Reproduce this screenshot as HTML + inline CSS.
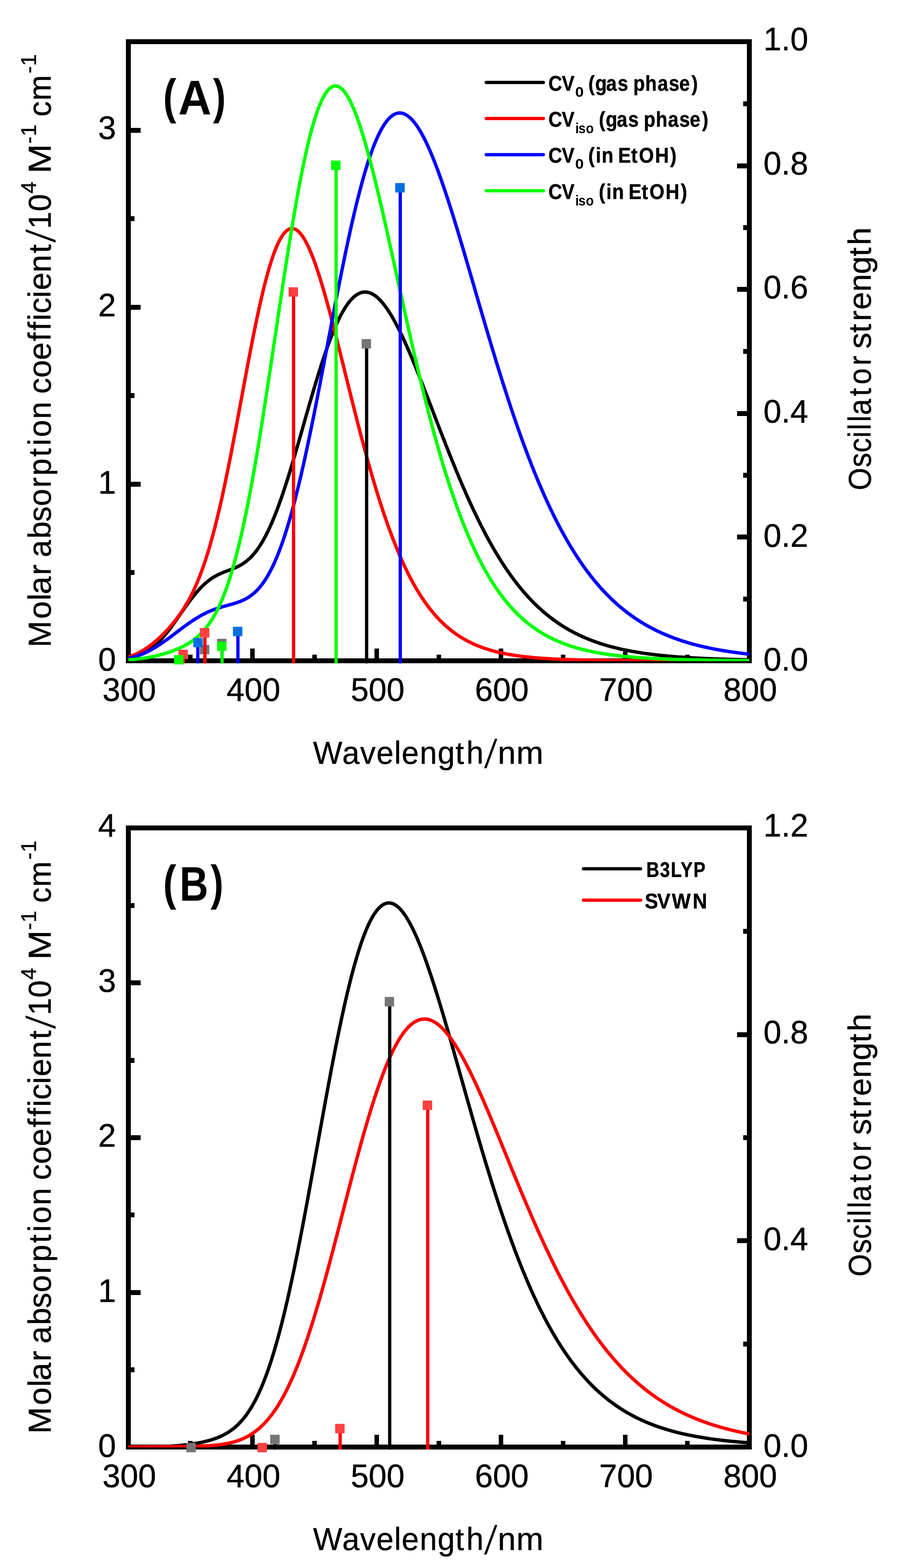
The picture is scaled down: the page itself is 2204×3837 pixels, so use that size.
<!DOCTYPE html>
<html lang="en"><head><meta charset="utf-8"><title>Calculated absorption spectra</title>
<style>html,body{margin:0;padding:0;background:#fff;}body{width:2204px;height:3837px;overflow:hidden;}svg{display:block;}text{font-family:"Liberation Sans",sans-serif;fill:#000;}</style></head><body>
<svg width="2204" height="3837" viewBox="0 0 2204 3837">
<rect x="0" y="0" width="2204" height="3837" fill="#fff"/>
<g>
<rect x="314" y="102" width="1519" height="1515" fill="none" stroke="#000" stroke-width="12"/>
<path d="M308,1617.0 h11 v-30 h-11 z M460,1617.0 h11 v-15 h-11 z M612,1617.0 h11 v-30 h-11 z M764,1617.0 h11 v-15 h-11 z M916,1617.0 h11 v-30 h-11 z M1068,1617.0 h11 v-15 h-11 z M1220,1617.0 h11 v-30 h-11 z M1372,1617.0 h11 v-15 h-11 z M1524,1617.0 h11 v-30 h-11 z M1676,1617.0 h11 v-15 h-11 z M1828,1617.0 h11 v-30 h-11 z M314.0,1611 h30 v12 h-30 z M314.0,1395 h15 v12 h-15 z M314.0,1179 h30 v12 h-30 z M314.0,962 h15 v12 h-15 z M314.0,746 h30 v12 h-30 z M314.0,529 h15 v12 h-15 z M314.0,313 h30 v12 h-30 z M314.0,96 h15 v12 h-15 z M1833.0,1611 h-30 v12 h30 z M1833.0,1460 h-15 v12 h15 z M1833.0,1308 h-30 v12 h30 z M1833.0,1157 h-15 v12 h15 z M1833.0,1006 h-30 v12 h30 z M1833.0,854 h-15 v12 h15 z M1833.0,702 h-30 v12 h30 z M1833.0,551 h-15 v12 h15 z M1833.0,400 h-30 v12 h30 z M1833.0,248 h-15 v12 h15 z M1833.0,96 h-30 v12 h30 z" fill="#000" stroke="none"/>
<clipPath id="clip0"><rect x="314" y="96" width="1520.5" height="1522"/></clipPath>
<g clip-path="url(#clip0)" fill="none" stroke-width="8.3" stroke-linejoin="round" stroke-linecap="butt">
<path d="M314.0,1608.4 L317.0,1607.8 L320.1,1607.2 L323.1,1606.6 L326.2,1605.9 L329.2,1605.1 L332.2,1604.3 L335.3,1603.4 L338.3,1602.4 L341.3,1601.3 L344.4,1600.2 L347.4,1598.9 L350.5,1597.6 L353.5,1596.1 L356.5,1594.5 L359.6,1592.8 L362.6,1591.0 L365.6,1589.0 L368.7,1587.0 L371.7,1584.8 L374.8,1582.4 L377.8,1580.0 L380.8,1577.4 L383.9,1574.6 L386.9,1571.8 L389.9,1568.8 L393.0,1565.6 L396.0,1562.4 L399.1,1559.0 L402.1,1555.5 L405.1,1551.9 L408.2,1548.2 L411.2,1544.4 L414.3,1540.4 L417.3,1536.4 L420.3,1532.4 L423.4,1528.2 L426.4,1524.0 L429.4,1519.7 L432.5,1515.4 L435.5,1511.1 L438.6,1506.8 L441.6,1502.4 L444.6,1498.0 L447.7,1493.7 L450.7,1489.3 L453.7,1485.0 L456.8,1480.8 L459.8,1476.5 L462.9,1472.4 L465.9,1468.3 L468.9,1464.3 L472.0,1460.4 L475.0,1456.6 L478.1,1452.9 L481.1,1449.3 L484.1,1445.8 L487.2,1442.4 L490.2,1439.1 L493.2,1436.0 L496.3,1433.0 L499.3,1430.1 L502.4,1427.4 L505.4,1424.8 L508.4,1422.3 L511.5,1419.9 L514.5,1417.7 L517.5,1415.6 L520.6,1413.6 L523.6,1411.7 L526.7,1410.0 L529.7,1408.3 L532.7,1406.8 L535.8,1405.3 L538.8,1403.9 L541.9,1402.5 L544.9,1401.3 L547.9,1400.0 L551.0,1398.8 L554.0,1397.7 L557.0,1396.5 L560.1,1395.4 L563.1,1394.3 L566.2,1393.1 L569.2,1391.9 L572.2,1390.7 L575.3,1389.4 L578.3,1388.0 L581.3,1386.6 L584.4,1385.1 L587.4,1383.4 L590.5,1381.7 L593.5,1379.8 L596.5,1377.8 L599.6,1375.7 L602.6,1373.4 L605.6,1370.9 L608.7,1368.2 L611.7,1365.4 L614.8,1362.4 L617.8,1359.1 L620.8,1355.7 L623.9,1352.0 L626.9,1348.1 L630.0,1344.0 L633.0,1339.7 L636.0,1335.1 L639.1,1330.3 L642.1,1325.2 L645.1,1319.9 L648.2,1314.3 L651.2,1308.5 L654.3,1302.4 L657.3,1296.1 L660.3,1289.6 L663.4,1282.8 L666.4,1275.7 L669.4,1268.4 L672.5,1260.9 L675.5,1253.2 L678.6,1245.2 L681.6,1237.0 L684.6,1228.6 L687.7,1220.0 L690.7,1211.2 L693.8,1202.2 L696.8,1193.0 L699.8,1183.6 L702.9,1174.1 L705.9,1164.4 L708.9,1154.6 L712.0,1144.6 L715.0,1134.5 L718.1,1124.4 L721.1,1114.1 L724.1,1103.7 L727.2,1093.2 L730.2,1082.7 L733.2,1072.1 L736.3,1061.5 L739.3,1050.9 L742.4,1040.2 L745.4,1029.6 L748.4,1018.9 L751.5,1008.3 L754.5,997.7 L757.5,987.2 L760.6,976.7 L763.6,966.3 L766.7,956.0 L769.7,945.8 L772.7,935.7 L775.8,925.7 L778.8,915.8 L781.9,906.1 L784.9,896.5 L787.9,887.1 L791.0,877.9 L794.0,868.9 L797.0,860.0 L800.1,851.3 L803.1,842.9 L806.2,834.7 L809.2,826.7 L812.2,818.9 L815.3,811.4 L818.3,804.1 L821.3,797.1 L824.4,790.4 L827.4,783.9 L830.5,777.7 L833.5,771.7 L836.5,766.1 L839.6,760.7 L842.6,755.6 L845.6,750.8 L848.7,746.3 L851.7,742.1 L854.8,738.2 L857.8,734.6 L860.8,731.3 L863.9,728.3 L866.9,725.5 L870.0,723.1 L873.0,721.0 L876.0,719.2 L879.1,717.7 L882.1,716.5 L885.1,715.6 L888.2,715.0 L891.2,714.7 L894.3,714.6 L897.3,714.9 L900.3,715.4 L903.4,716.2 L906.4,717.3 L909.4,718.7 L912.5,720.3 L915.5,722.2 L918.6,724.3 L921.6,726.7 L924.6,729.4 L927.7,732.3 L930.7,735.4 L933.8,738.8 L936.8,742.4 L939.8,746.2 L942.9,750.2 L945.9,754.5 L948.9,758.9 L952.0,763.6 L955.0,768.4 L958.1,773.4 L961.1,778.6 L964.1,784.0 L967.2,789.6 L970.2,795.3 L973.2,801.2 L976.3,807.2 L979.3,813.3 L982.4,819.6 L985.4,826.1 L988.4,832.6 L991.5,839.3 L994.5,846.1 L997.5,853.0 L1000.6,860.0 L1003.6,867.1 L1006.7,874.3 L1009.7,881.6 L1012.7,888.9 L1015.8,896.3 L1018.8,903.8 L1021.9,911.4 L1024.9,919.0 L1027.9,926.7 L1031.0,934.4 L1034.0,942.1 L1037.0,949.9 L1040.1,957.7 L1043.1,965.6 L1046.2,973.4 L1049.2,981.3 L1052.2,989.2 L1055.3,997.1 L1058.3,1005.0 L1061.3,1012.9 L1064.4,1020.9 L1067.4,1028.8 L1070.5,1036.7 L1073.5,1044.5 L1076.5,1052.4 L1079.6,1060.2 L1082.6,1068.1 L1085.7,1075.9 L1088.7,1083.6 L1091.7,1091.4 L1094.8,1099.0 L1097.8,1106.7 L1100.8,1114.3 L1103.9,1121.9 L1106.9,1129.4 L1110.0,1136.9 L1113.0,1144.3 L1116.0,1151.7 L1119.1,1159.0 L1122.1,1166.3 L1125.1,1173.5 L1128.2,1180.6 L1131.2,1187.7 L1134.3,1194.8 L1137.3,1201.7 L1140.3,1208.6 L1143.4,1215.5 L1146.4,1222.2 L1149.5,1228.9 L1152.5,1235.5 L1155.5,1242.1 L1158.6,1248.6 L1161.6,1255.0 L1164.6,1261.3 L1167.7,1267.6 L1170.7,1273.8 L1173.8,1279.9 L1176.8,1286.0 L1179.8,1291.9 L1182.9,1297.8 L1185.9,1303.6 L1188.9,1309.4 L1192.0,1315.0 L1195.0,1320.6 L1198.1,1326.2 L1201.1,1331.6 L1204.1,1337.0 L1207.2,1342.2 L1210.2,1347.5 L1213.2,1352.6 L1216.3,1357.7 L1219.3,1362.6 L1222.4,1367.5 L1225.4,1372.4 L1228.4,1377.2 L1231.5,1381.8 L1234.5,1386.5 L1237.6,1391.0 L1240.6,1395.5 L1243.6,1399.9 L1246.7,1404.2 L1249.7,1408.5 L1252.7,1412.6 L1255.8,1416.8 L1258.8,1420.8 L1261.9,1424.8 L1264.9,1428.7 L1267.9,1432.6 L1271.0,1436.3 L1274.0,1440.1 L1277.0,1443.7 L1280.1,1447.3 L1283.1,1450.8 L1286.2,1454.3 L1289.2,1457.7 L1292.2,1461.0 L1295.3,1464.3 L1298.3,1467.5 L1301.3,1470.6 L1304.4,1473.7 L1307.4,1476.8 L1310.5,1479.8 L1313.5,1482.7 L1316.5,1485.6 L1319.6,1488.4 L1322.6,1491.1 L1325.7,1493.9 L1328.7,1496.5 L1331.7,1499.1 L1334.8,1501.7 L1337.8,1504.2 L1340.8,1506.6 L1343.9,1509.0 L1346.9,1511.4 L1350.0,1513.7 L1353.0,1516.0 L1356.0,1518.2 L1359.1,1520.4 L1362.1,1522.5 L1365.1,1524.6 L1368.2,1526.7 L1371.2,1528.7 L1374.3,1530.6 L1377.3,1532.5 L1380.3,1534.4 L1383.4,1536.3 L1386.4,1538.1 L1389.5,1539.9 L1392.5,1541.6 L1395.5,1543.3 L1398.6,1544.9 L1401.6,1546.6 L1404.6,1548.2 L1407.7,1549.7 L1410.7,1551.2 L1413.8,1552.7 L1416.8,1554.2 L1419.8,1555.6 L1422.9,1557.0 L1425.9,1558.4 L1428.9,1559.7 L1432.0,1561.0 L1435.0,1562.3 L1438.1,1563.6 L1441.1,1564.8 L1444.1,1566.0 L1447.2,1567.2 L1450.2,1568.3 L1453.2,1569.4 L1456.3,1570.5 L1459.3,1571.6 L1462.4,1572.6 L1465.4,1573.7 L1468.4,1574.7 L1471.5,1575.7 L1474.5,1576.6 L1477.6,1577.6 L1480.6,1578.5 L1483.6,1579.4 L1486.7,1580.2 L1489.7,1581.1 L1492.7,1581.9 L1495.8,1582.7 L1498.8,1583.5 L1501.9,1584.3 L1504.9,1585.1 L1507.9,1585.8 L1511.0,1586.6 L1514.0,1587.3 L1517.0,1588.0 L1520.1,1588.7 L1523.1,1589.3 L1526.2,1590.0 L1529.2,1590.6 L1532.2,1591.2 L1535.3,1591.8 L1538.3,1592.4 L1541.4,1593.0 L1544.4,1593.6 L1547.4,1594.1 L1550.5,1594.7 L1553.5,1595.2 L1556.5,1595.7 L1559.6,1596.2 L1562.6,1596.7 L1565.7,1597.2 L1568.7,1597.6 L1571.7,1598.1 L1574.8,1598.5 L1577.8,1599.0 L1580.8,1599.4 L1583.9,1599.8 L1586.9,1600.2 L1590.0,1600.6 L1593.0,1601.0 L1596.0,1601.4 L1599.1,1601.7 L1602.1,1602.1 L1605.2,1602.5 L1608.2,1602.8 L1611.2,1603.1 L1614.3,1603.5 L1617.3,1603.8 L1620.3,1604.1 L1623.4,1604.4 L1626.4,1604.7 L1629.5,1605.0 L1632.5,1605.3 L1635.5,1605.6 L1638.6,1605.8 L1641.6,1606.1 L1644.6,1606.4 L1647.7,1606.6 L1650.7,1606.9 L1653.8,1607.1 L1656.8,1607.3 L1659.8,1607.6 L1662.9,1607.8 L1665.9,1608.0 L1668.9,1608.2 L1672.0,1608.4 L1675.0,1608.6 L1678.1,1608.8 L1681.1,1609.0 L1684.1,1609.2 L1687.2,1609.4 L1690.2,1609.6 L1693.3,1609.7 L1696.3,1609.9 L1699.3,1610.1 L1702.4,1610.2 L1705.4,1610.4 L1708.4,1610.6 L1711.5,1610.7 L1714.5,1610.9 L1717.6,1611.0 L1720.6,1611.1 L1723.6,1611.3 L1726.7,1611.4 L1729.7,1611.6 L1732.7,1611.7 L1735.8,1611.8 L1738.8,1611.9 L1741.9,1612.0 L1744.9,1612.2 L1747.9,1612.3 L1751.0,1612.4 L1754.0,1612.5 L1757.0,1612.6 L1760.1,1612.7 L1763.1,1612.8 L1766.2,1612.9 L1769.2,1613.0 L1772.2,1613.1 L1775.3,1613.2 L1778.3,1613.3 L1781.4,1613.4 L1784.4,1613.4 L1787.4,1613.5 L1790.5,1613.6 L1793.5,1613.7 L1796.5,1613.8 L1799.6,1613.8 L1802.6,1613.9 L1805.7,1614.0 L1808.7,1614.1 L1811.7,1614.1 L1814.8,1614.2 L1817.8,1614.3 L1820.8,1614.3 L1823.9,1614.4 L1826.9,1614.5 L1830.0,1614.5 L1833.0,1614.6" stroke="#000000"/>
<path d="M314.0,1607.6 L317.0,1606.6 L320.1,1605.6 L323.1,1604.5 L326.2,1603.3 L329.2,1602.1 L332.2,1600.8 L335.3,1599.4 L338.3,1597.9 L341.3,1596.3 L344.4,1594.7 L347.4,1593.0 L350.5,1591.2 L353.5,1589.3 L356.5,1587.3 L359.6,1585.3 L362.6,1583.2 L365.6,1581.0 L368.7,1578.7 L371.7,1576.4 L374.8,1574.0 L377.8,1571.5 L380.8,1568.9 L383.9,1566.3 L386.9,1563.5 L389.9,1560.8 L393.0,1557.9 L396.0,1555.0 L399.1,1552.0 L402.1,1548.9 L405.1,1545.8 L408.2,1542.5 L411.2,1539.2 L414.3,1535.8 L417.3,1532.4 L420.3,1528.8 L423.4,1525.2 L426.4,1521.4 L429.4,1517.6 L432.5,1513.6 L435.5,1509.5 L438.6,1505.3 L441.6,1501.0 L444.6,1496.5 L447.7,1491.9 L450.7,1487.1 L453.7,1482.2 L456.8,1477.0 L459.8,1471.7 L462.9,1466.2 L465.9,1460.5 L468.9,1454.5 L472.0,1448.3 L475.0,1441.9 L478.1,1435.2 L481.1,1428.3 L484.1,1421.1 L487.2,1413.6 L490.2,1405.8 L493.2,1397.7 L496.3,1389.3 L499.3,1380.5 L502.4,1371.5 L505.4,1362.1 L508.4,1352.3 L511.5,1342.3 L514.5,1331.8 L517.5,1321.1 L520.6,1310.0 L523.6,1298.5 L526.7,1286.7 L529.7,1274.6 L532.7,1262.1 L535.8,1249.3 L538.8,1236.1 L541.9,1222.7 L544.9,1208.9 L547.9,1194.9 L551.0,1180.5 L554.0,1165.9 L557.0,1151.0 L560.1,1135.9 L563.1,1120.6 L566.2,1105.1 L569.2,1089.4 L572.2,1073.5 L575.3,1057.4 L578.3,1041.3 L581.3,1025.1 L584.4,1008.8 L587.4,992.4 L590.5,976.0 L593.5,959.6 L596.5,943.2 L599.6,926.9 L602.6,910.7 L605.6,894.6 L608.7,878.5 L611.7,862.7 L614.8,847.0 L617.8,831.6 L620.8,816.3 L623.9,801.3 L626.9,786.6 L630.0,772.2 L633.0,758.2 L636.0,744.4 L639.1,731.1 L642.1,718.1 L645.1,705.6 L648.2,693.4 L651.2,681.7 L654.3,670.5 L657.3,659.8 L660.3,649.5 L663.4,639.8 L666.4,630.6 L669.4,621.9 L672.5,613.7 L675.5,606.1 L678.6,599.1 L681.6,592.6 L684.6,586.7 L687.7,581.4 L690.7,576.6 L693.8,572.4 L696.8,568.8 L699.8,565.8 L702.9,563.3 L705.9,561.4 L708.9,560.1 L712.0,559.4 L715.0,559.2 L718.1,559.6 L721.1,560.5 L724.1,562.0 L727.2,564.0 L730.2,566.5 L733.2,569.6 L736.3,573.1 L739.3,577.2 L742.4,581.7 L745.4,586.7 L748.4,592.1 L751.5,598.0 L754.5,604.3 L757.5,611.0 L760.6,618.1 L763.6,625.6 L766.7,633.4 L769.7,641.7 L772.7,650.2 L775.8,659.1 L778.8,668.3 L781.9,677.7 L784.9,687.5 L787.9,697.5 L791.0,707.8 L794.0,718.3 L797.0,729.0 L800.1,739.9 L803.1,751.0 L806.2,762.2 L809.2,773.6 L812.2,785.2 L815.3,796.9 L818.3,808.7 L821.3,820.6 L824.4,832.6 L827.4,844.7 L830.5,856.8 L833.5,869.0 L836.5,881.2 L839.6,893.5 L842.6,905.7 L845.6,918.0 L848.7,930.3 L851.7,942.5 L854.8,954.7 L857.8,966.9 L860.8,979.1 L863.9,991.2 L866.9,1003.2 L870.0,1015.2 L873.0,1027.1 L876.0,1038.9 L879.1,1050.6 L882.1,1062.2 L885.1,1073.8 L888.2,1085.2 L891.2,1096.5 L894.3,1107.7 L897.3,1118.8 L900.3,1129.7 L903.4,1140.5 L906.4,1151.2 L909.4,1161.8 L912.5,1172.2 L915.5,1182.5 L918.6,1192.6 L921.6,1202.6 L924.6,1212.4 L927.7,1222.1 L930.7,1231.6 L933.8,1241.0 L936.8,1250.2 L939.8,1259.2 L942.9,1268.1 L945.9,1276.9 L948.9,1285.5 L952.0,1293.9 L955.0,1302.2 L958.1,1310.3 L961.1,1318.3 L964.1,1326.1 L967.2,1333.7 L970.2,1341.2 L973.2,1348.6 L976.3,1355.7 L979.3,1362.8 L982.4,1369.7 L985.4,1376.4 L988.4,1383.0 L991.5,1389.4 L994.5,1395.7 L997.5,1401.9 L1000.6,1407.9 L1003.6,1413.8 L1006.7,1419.5 L1009.7,1425.1 L1012.7,1430.6 L1015.8,1435.9 L1018.8,1441.2 L1021.9,1446.2 L1024.9,1451.2 L1027.9,1456.0 L1031.0,1460.7 L1034.0,1465.3 L1037.0,1469.8 L1040.1,1474.2 L1043.1,1478.4 L1046.2,1482.5 L1049.2,1486.6 L1052.2,1490.5 L1055.3,1494.3 L1058.3,1498.0 L1061.3,1501.6 L1064.4,1505.1 L1067.4,1508.6 L1070.5,1511.9 L1073.5,1515.1 L1076.5,1518.3 L1079.6,1521.3 L1082.6,1524.3 L1085.7,1527.2 L1088.7,1530.0 L1091.7,1532.7 L1094.8,1535.3 L1097.8,1537.9 L1100.8,1540.4 L1103.9,1542.8 L1106.9,1545.2 L1110.0,1547.5 L1113.0,1549.7 L1116.0,1551.8 L1119.1,1553.9 L1122.1,1555.9 L1125.1,1557.9 L1128.2,1559.8 L1131.2,1561.6 L1134.3,1563.4 L1137.3,1565.2 L1140.3,1566.8 L1143.4,1568.5 L1146.4,1570.1 L1149.5,1571.6 L1152.5,1573.1 L1155.5,1574.5 L1158.6,1575.9 L1161.6,1577.3 L1164.6,1578.6 L1167.7,1579.8 L1170.7,1581.1 L1173.8,1582.2 L1176.8,1583.4 L1179.8,1584.5 L1182.9,1585.6 L1185.9,1586.6 L1188.9,1587.6 L1192.0,1588.6 L1195.0,1589.6 L1198.1,1590.5 L1201.1,1591.4 L1204.1,1592.2 L1207.2,1593.1 L1210.2,1593.9 L1213.2,1594.6 L1216.3,1595.4 L1219.3,1596.1 L1222.4,1596.8 L1225.4,1597.5 L1228.4,1598.2 L1231.5,1598.8 L1234.5,1599.4 L1237.6,1600.0 L1240.6,1600.6 L1243.6,1601.2 L1246.7,1601.7 L1249.7,1602.2 L1252.7,1602.7 L1255.8,1603.2 L1258.8,1603.7 L1261.9,1604.1 L1264.9,1604.6 L1267.9,1605.0 L1271.0,1605.4 L1274.0,1605.8 L1277.0,1606.2 L1280.1,1606.6 L1283.1,1606.9 L1286.2,1607.3 L1289.2,1607.6 L1292.2,1607.9 L1295.3,1608.2 L1298.3,1608.5 L1301.3,1608.8 L1304.4,1609.1 L1307.4,1609.4 L1310.5,1609.6 L1313.5,1609.9 L1316.5,1610.1 L1319.6,1610.4 L1322.6,1610.6 L1325.7,1610.8 L1328.7,1611.0 L1331.7,1611.2 L1334.8,1611.4 L1337.8,1611.6 L1340.8,1611.8 L1343.9,1612.0 L1346.9,1612.2 L1350.0,1612.3 L1353.0,1612.5 L1356.0,1612.6 L1359.1,1612.8 L1362.1,1612.9 L1365.1,1613.1 L1368.2,1613.2 L1371.2,1613.3 L1374.3,1613.5 L1377.3,1613.6 L1380.3,1613.7 L1383.4,1613.8 L1386.4,1613.9 L1389.5,1614.0 L1392.5,1614.1 L1395.5,1614.2 L1398.6,1614.3 L1401.6,1614.4 L1404.6,1614.5 L1407.7,1614.6 L1410.7,1614.7 L1413.8,1614.8 L1416.8,1614.8 L1419.8,1614.9 L1422.9,1615.0 L1425.9,1615.1 L1428.9,1615.1 L1432.0,1615.2 L1435.0,1615.3 L1438.1,1615.3 L1441.1,1615.4 L1444.1,1615.4 L1447.2,1615.5 L1450.2,1615.5 L1453.2,1615.6 L1456.3,1615.6 L1459.3,1615.7 L1462.4,1615.7 L1465.4,1615.8 L1468.4,1615.8 L1471.5,1615.9 L1474.5,1615.9 L1477.6,1615.9 L1480.6,1616.0 L1483.6,1616.0 L1486.7,1616.0 L1489.7,1616.1 L1492.7,1616.1 L1495.8,1616.1 L1498.8,1616.2 L1501.9,1616.2 L1504.9,1616.2 L1507.9,1616.2 L1511.0,1616.3 L1514.0,1616.3 L1517.0,1616.3 L1520.1,1616.3 L1523.1,1616.4 L1526.2,1616.4 L1529.2,1616.4 L1532.2,1616.4 L1535.3,1616.4 L1538.3,1616.5 L1541.4,1616.5 L1544.4,1616.5 L1547.4,1616.5 L1550.5,1616.5 L1553.5,1616.5 L1556.5,1616.6 L1559.6,1616.6 L1562.6,1616.6 L1565.7,1616.6 L1568.7,1616.6 L1571.7,1616.6 L1574.8,1616.6 L1577.8,1616.7 L1580.8,1616.7 L1583.9,1616.7 L1586.9,1616.7 L1590.0,1616.7 L1593.0,1616.7 L1596.0,1616.7 L1599.1,1616.7 L1602.1,1616.7 L1605.2,1616.7 L1608.2,1616.8 L1611.2,1616.8 L1614.3,1616.8 L1617.3,1616.8 L1620.3,1616.8 L1623.4,1616.8 L1626.4,1616.8 L1629.5,1616.8 L1632.5,1616.8 L1635.5,1616.8 L1638.6,1616.8 L1641.6,1616.8 L1644.6,1616.8 L1647.7,1616.8 L1650.7,1616.8 L1653.8,1616.9 L1656.8,1616.9 L1659.8,1616.9 L1662.9,1616.9 L1665.9,1616.9 L1668.9,1616.9 L1672.0,1616.9 L1675.0,1616.9 L1678.1,1616.9 L1681.1,1616.9 L1684.1,1616.9 L1687.2,1616.9 L1690.2,1616.9 L1693.3,1616.9 L1696.3,1616.9 L1699.3,1616.9 L1702.4,1616.9 L1705.4,1616.9 L1708.4,1616.9 L1711.5,1616.9 L1714.5,1616.9 L1717.6,1616.9 L1720.6,1616.9 L1723.6,1616.9 L1726.7,1616.9 L1729.7,1616.9 L1732.7,1616.9 L1735.8,1616.9 L1738.8,1616.9 L1741.9,1616.9 L1744.9,1616.9 L1747.9,1616.9 L1751.0,1616.9 L1754.0,1617.0 L1757.0,1617.0 L1760.1,1617.0 L1763.1,1617.0 L1766.2,1617.0 L1769.2,1617.0 L1772.2,1617.0 L1775.3,1617.0 L1778.3,1617.0 L1781.4,1617.0 L1784.4,1617.0 L1787.4,1617.0 L1790.5,1617.0 L1793.5,1617.0 L1796.5,1617.0 L1799.6,1617.0 L1802.6,1617.0 L1805.7,1617.0 L1808.7,1617.0 L1811.7,1617.0 L1814.8,1617.0 L1817.8,1617.0 L1820.8,1617.0 L1823.9,1617.0 L1826.9,1617.0 L1830.0,1617.0 L1833.0,1617.0" stroke="#ff0000"/>
<path d="M314.0,1611.0 L317.0,1610.3 L320.1,1609.6 L323.1,1608.9 L326.2,1608.1 L329.2,1607.2 L332.2,1606.3 L335.3,1605.3 L338.3,1604.3 L341.3,1603.2 L344.4,1602.0 L347.4,1600.8 L350.5,1599.5 L353.5,1598.2 L356.5,1596.8 L359.6,1595.4 L362.6,1593.8 L365.6,1592.3 L368.7,1590.6 L371.7,1589.0 L374.8,1587.2 L377.8,1585.4 L380.8,1583.6 L383.9,1581.7 L386.9,1579.7 L389.9,1577.8 L393.0,1575.7 L396.0,1573.7 L399.1,1571.6 L402.1,1569.4 L405.1,1567.3 L408.2,1565.1 L411.2,1562.9 L414.3,1560.6 L417.3,1558.3 L420.3,1556.1 L423.4,1553.8 L426.4,1551.5 L429.4,1549.2 L432.5,1546.9 L435.5,1544.6 L438.6,1542.3 L441.6,1540.0 L444.6,1537.7 L447.7,1535.5 L450.7,1533.2 L453.7,1531.0 L456.8,1528.8 L459.8,1526.6 L462.9,1524.5 L465.9,1522.4 L468.9,1520.4 L472.0,1518.3 L475.0,1516.3 L478.1,1514.4 L481.1,1512.5 L484.1,1510.7 L487.2,1508.9 L490.2,1507.1 L493.2,1505.4 L496.3,1503.8 L499.3,1502.2 L502.4,1500.7 L505.4,1499.2 L508.4,1497.8 L511.5,1496.5 L514.5,1495.1 L517.5,1493.9 L520.6,1492.7 L523.6,1491.5 L526.7,1490.4 L529.7,1489.4 L532.7,1488.3 L535.8,1487.4 L538.8,1486.4 L541.9,1485.5 L544.9,1484.6 L547.9,1483.8 L551.0,1482.9 L554.0,1482.1 L557.0,1481.3 L560.1,1480.4 L563.1,1479.6 L566.2,1478.7 L569.2,1477.9 L572.2,1477.0 L575.3,1476.0 L578.3,1475.1 L581.3,1474.0 L584.4,1472.9 L587.4,1471.8 L590.5,1470.5 L593.5,1469.2 L596.5,1467.8 L599.6,1466.3 L602.6,1464.6 L605.6,1462.9 L608.7,1461.0 L611.7,1458.9 L614.8,1456.7 L617.8,1454.4 L620.8,1451.8 L623.9,1449.1 L626.9,1446.2 L630.0,1443.1 L633.0,1439.8 L636.0,1436.3 L639.1,1432.5 L642.1,1428.5 L645.1,1424.3 L648.2,1419.8 L651.2,1415.1 L654.3,1410.1 L657.3,1404.8 L660.3,1399.3 L663.4,1393.4 L666.4,1387.3 L669.4,1380.9 L672.5,1374.2 L675.5,1367.2 L678.6,1359.9 L681.6,1352.3 L684.6,1344.4 L687.7,1336.1 L690.7,1327.6 L693.8,1318.7 L696.8,1309.6 L699.8,1300.1 L702.9,1290.3 L705.9,1280.2 L708.9,1269.8 L712.0,1259.1 L715.0,1248.1 L718.1,1236.8 L721.1,1225.2 L724.1,1213.3 L727.2,1201.2 L730.2,1188.8 L733.2,1176.1 L736.3,1163.1 L739.3,1149.9 L742.4,1136.4 L745.4,1122.8 L748.4,1108.8 L751.5,1094.7 L754.5,1080.4 L757.5,1065.9 L760.6,1051.2 L763.6,1036.3 L766.7,1021.2 L769.7,1006.0 L772.7,990.7 L775.8,975.3 L778.8,959.7 L781.9,944.0 L784.9,928.3 L787.9,912.5 L791.0,896.6 L794.0,880.7 L797.0,864.7 L800.1,848.8 L803.1,832.8 L806.2,816.8 L809.2,800.9 L812.2,785.0 L815.3,769.1 L818.3,753.4 L821.3,737.7 L824.4,722.0 L827.4,706.5 L830.5,691.2 L833.5,675.9 L836.5,660.8 L839.6,645.8 L842.6,631.1 L845.6,616.5 L848.7,602.1 L851.7,587.9 L854.8,573.9 L857.8,560.1 L860.8,546.6 L863.9,533.3 L866.9,520.3 L870.0,507.6 L873.0,495.1 L876.0,483.0 L879.1,471.1 L882.1,459.5 L885.1,448.3 L888.2,437.3 L891.2,426.7 L894.3,416.4 L897.3,406.5 L900.3,396.8 L903.4,387.6 L906.4,378.7 L909.4,370.1 L912.5,361.9 L915.5,354.1 L918.6,346.7 L921.6,339.6 L924.6,332.9 L927.7,326.6 L930.7,320.6 L933.8,315.0 L936.8,309.8 L939.8,305.0 L942.9,300.6 L945.9,296.5 L948.9,292.8 L952.0,289.5 L955.0,286.6 L958.1,284.1 L961.1,281.9 L964.1,280.1 L967.2,278.6 L970.2,277.6 L973.2,276.8 L976.3,276.5 L979.3,276.5 L982.4,276.8 L985.4,277.5 L988.4,278.6 L991.5,280.0 L994.5,281.7 L997.5,283.7 L1000.6,286.1 L1003.6,288.8 L1006.7,291.8 L1009.7,295.0 L1012.7,298.6 L1015.8,302.5 L1018.8,306.7 L1021.9,311.2 L1024.9,315.9 L1027.9,320.9 L1031.0,326.2 L1034.0,331.7 L1037.0,337.5 L1040.1,343.5 L1043.1,349.8 L1046.2,356.3 L1049.2,363.0 L1052.2,369.9 L1055.3,377.1 L1058.3,384.4 L1061.3,391.9 L1064.4,399.6 L1067.4,407.6 L1070.5,415.6 L1073.5,423.9 L1076.5,432.3 L1079.6,440.9 L1082.6,449.6 L1085.7,458.4 L1088.7,467.4 L1091.7,476.5 L1094.8,485.8 L1097.8,495.1 L1100.8,504.6 L1103.9,514.1 L1106.9,523.8 L1110.0,533.6 L1113.0,543.4 L1116.0,553.3 L1119.1,563.3 L1122.1,573.4 L1125.1,583.5 L1128.2,593.7 L1131.2,603.9 L1134.3,614.2 L1137.3,624.5 L1140.3,634.8 L1143.4,645.2 L1146.4,655.6 L1149.5,666.1 L1152.5,676.5 L1155.5,687.0 L1158.6,697.4 L1161.6,707.9 L1164.6,718.3 L1167.7,728.8 L1170.7,739.3 L1173.8,749.7 L1176.8,760.1 L1179.8,770.5 L1182.9,780.9 L1185.9,791.2 L1188.9,801.5 L1192.0,811.8 L1195.0,822.1 L1198.1,832.3 L1201.1,842.4 L1204.1,852.6 L1207.2,862.6 L1210.2,872.6 L1213.2,882.6 L1216.3,892.5 L1219.3,902.4 L1222.4,912.1 L1225.4,921.9 L1228.4,931.5 L1231.5,941.1 L1234.5,950.7 L1237.6,960.1 L1240.6,969.5 L1243.6,978.8 L1246.7,988.0 L1249.7,997.2 L1252.7,1006.3 L1255.8,1015.3 L1258.8,1024.2 L1261.9,1033.1 L1264.9,1041.8 L1267.9,1050.5 L1271.0,1059.1 L1274.0,1067.6 L1277.0,1076.1 L1280.1,1084.4 L1283.1,1092.7 L1286.2,1100.8 L1289.2,1108.9 L1292.2,1116.9 L1295.3,1124.8 L1298.3,1132.6 L1301.3,1140.4 L1304.4,1148.0 L1307.4,1155.6 L1310.5,1163.0 L1313.5,1170.4 L1316.5,1177.7 L1319.6,1184.9 L1322.6,1192.0 L1325.7,1199.0 L1328.7,1206.0 L1331.7,1212.8 L1334.8,1219.6 L1337.8,1226.2 L1340.8,1232.8 L1343.9,1239.3 L1346.9,1245.7 L1350.0,1252.0 L1353.0,1258.3 L1356.0,1264.4 L1359.1,1270.5 L1362.1,1276.5 L1365.1,1282.4 L1368.2,1288.2 L1371.2,1293.9 L1374.3,1299.6 L1377.3,1305.1 L1380.3,1310.6 L1383.4,1316.0 L1386.4,1321.3 L1389.5,1326.6 L1392.5,1331.7 L1395.5,1336.8 L1398.6,1341.8 L1401.6,1346.8 L1404.6,1351.6 L1407.7,1356.4 L1410.7,1361.1 L1413.8,1365.7 L1416.8,1370.3 L1419.8,1374.8 L1422.9,1379.2 L1425.9,1383.6 L1428.9,1387.8 L1432.0,1392.0 L1435.0,1396.2 L1438.1,1400.3 L1441.1,1404.3 L1444.1,1408.2 L1447.2,1412.1 L1450.2,1415.9 L1453.2,1419.6 L1456.3,1423.3 L1459.3,1426.9 L1462.4,1430.5 L1465.4,1434.0 L1468.4,1437.5 L1471.5,1440.8 L1474.5,1444.2 L1477.6,1447.4 L1480.6,1450.6 L1483.6,1453.8 L1486.7,1456.9 L1489.7,1459.9 L1492.7,1462.9 L1495.8,1465.9 L1498.8,1468.8 L1501.9,1471.6 L1504.9,1474.4 L1507.9,1477.1 L1511.0,1479.8 L1514.0,1482.5 L1517.0,1485.1 L1520.1,1487.6 L1523.1,1490.1 L1526.2,1492.6 L1529.2,1495.0 L1532.2,1497.3 L1535.3,1499.7 L1538.3,1501.9 L1541.4,1504.2 L1544.4,1506.4 L1547.4,1508.5 L1550.5,1510.7 L1553.5,1512.7 L1556.5,1514.8 L1559.6,1516.8 L1562.6,1518.8 L1565.7,1520.7 L1568.7,1522.6 L1571.7,1524.4 L1574.8,1526.3 L1577.8,1528.0 L1580.8,1529.8 L1583.9,1531.5 L1586.9,1533.2 L1590.0,1534.9 L1593.0,1536.5 L1596.0,1538.1 L1599.1,1539.6 L1602.1,1541.2 L1605.2,1542.7 L1608.2,1544.2 L1611.2,1545.6 L1614.3,1547.0 L1617.3,1548.4 L1620.3,1549.8 L1623.4,1551.1 L1626.4,1552.4 L1629.5,1553.7 L1632.5,1555.0 L1635.5,1556.2 L1638.6,1557.4 L1641.6,1558.6 L1644.6,1559.8 L1647.7,1560.9 L1650.7,1562.1 L1653.8,1563.2 L1656.8,1564.2 L1659.8,1565.3 L1662.9,1566.3 L1665.9,1567.4 L1668.9,1568.4 L1672.0,1569.3 L1675.0,1570.3 L1678.1,1571.2 L1681.1,1572.1 L1684.1,1573.1 L1687.2,1573.9 L1690.2,1574.8 L1693.3,1575.7 L1696.3,1576.5 L1699.3,1577.3 L1702.4,1578.1 L1705.4,1578.9 L1708.4,1579.7 L1711.5,1580.4 L1714.5,1581.1 L1717.6,1581.9 L1720.6,1582.6 L1723.6,1583.3 L1726.7,1583.9 L1729.7,1584.6 L1732.7,1585.3 L1735.8,1585.9 L1738.8,1586.5 L1741.9,1587.2 L1744.9,1587.8 L1747.9,1588.3 L1751.0,1588.9 L1754.0,1589.5 L1757.0,1590.0 L1760.1,1590.6 L1763.1,1591.1 L1766.2,1591.6 L1769.2,1592.2 L1772.2,1592.7 L1775.3,1593.1 L1778.3,1593.6 L1781.4,1594.1 L1784.4,1594.6 L1787.4,1595.0 L1790.5,1595.5 L1793.5,1595.9 L1796.5,1596.3 L1799.6,1596.7 L1802.6,1597.1 L1805.7,1597.5 L1808.7,1597.9 L1811.7,1598.3 L1814.8,1598.7 L1817.8,1599.1 L1820.8,1599.4 L1823.9,1599.8 L1826.9,1600.1 L1830.0,1600.5 L1833.0,1600.8" stroke="#0000ff"/>
<path d="M314.0,1614.6 L317.0,1614.4 L320.1,1614.2 L323.1,1613.9 L326.2,1613.6 L329.2,1613.3 L332.2,1613.0 L335.3,1612.7 L338.3,1612.3 L341.3,1611.9 L344.4,1611.6 L347.4,1611.1 L350.5,1610.7 L353.5,1610.3 L356.5,1609.8 L359.6,1609.3 L362.6,1608.8 L365.6,1608.2 L368.7,1607.6 L371.7,1607.0 L374.8,1606.4 L377.8,1605.8 L380.8,1605.1 L383.9,1604.4 L386.9,1603.7 L389.9,1602.9 L393.0,1602.1 L396.0,1601.3 L399.1,1600.5 L402.1,1599.6 L405.1,1598.7 L408.2,1597.8 L411.2,1596.8 L414.3,1595.8 L417.3,1594.7 L420.3,1593.7 L423.4,1592.6 L426.4,1591.4 L429.4,1590.2 L432.5,1588.9 L435.5,1587.6 L438.6,1586.3 L441.6,1584.9 L444.6,1583.4 L447.7,1581.9 L450.7,1580.4 L453.7,1578.7 L456.8,1577.0 L459.8,1575.2 L462.9,1573.3 L465.9,1571.4 L468.9,1569.3 L472.0,1567.2 L475.0,1564.9 L478.1,1562.5 L481.1,1560.0 L484.1,1557.4 L487.2,1554.6 L490.2,1551.7 L493.2,1548.7 L496.3,1545.5 L499.3,1542.1 L502.4,1538.5 L505.4,1534.7 L508.4,1530.7 L511.5,1526.5 L514.5,1522.1 L517.5,1517.5 L520.6,1512.5 L523.6,1507.4 L526.7,1501.9 L529.7,1496.2 L532.7,1490.2 L535.8,1483.9 L538.8,1477.3 L541.9,1470.3 L544.9,1463.1 L547.9,1455.4 L551.0,1447.5 L554.0,1439.1 L557.0,1430.4 L560.1,1421.3 L563.1,1411.8 L566.2,1401.9 L569.2,1391.7 L572.2,1381.0 L575.3,1369.9 L578.3,1358.4 L581.3,1346.5 L584.4,1334.2 L587.4,1321.5 L590.5,1308.3 L593.5,1294.8 L596.5,1280.8 L599.6,1266.4 L602.6,1251.7 L605.6,1236.5 L608.7,1220.9 L611.7,1205.0 L614.8,1188.7 L617.8,1172.0 L620.8,1155.0 L623.9,1137.6 L626.9,1119.9 L630.0,1101.9 L633.0,1083.6 L636.0,1065.0 L639.1,1046.2 L642.1,1027.1 L645.1,1007.7 L648.2,988.2 L651.2,968.5 L654.3,948.6 L657.3,928.6 L660.3,908.4 L663.4,888.2 L666.4,867.8 L669.4,847.4 L672.5,827.0 L675.5,806.6 L678.6,786.2 L681.6,765.8 L684.6,745.5 L687.7,725.2 L690.7,705.1 L693.8,685.1 L696.8,665.3 L699.8,645.7 L702.9,626.3 L705.9,607.1 L708.9,588.1 L712.0,569.4 L715.0,551.1 L718.1,533.0 L721.1,515.3 L724.1,497.9 L727.2,480.9 L730.2,464.3 L733.2,448.2 L736.3,432.4 L739.3,417.1 L742.4,402.3 L745.4,388.0 L748.4,374.1 L751.5,360.8 L754.5,347.9 L757.5,335.6 L760.6,323.9 L763.6,312.7 L766.7,302.0 L769.7,291.9 L772.7,282.4 L775.8,273.5 L778.8,265.1 L781.9,257.3 L784.9,250.2 L787.9,243.6 L791.0,237.6 L794.0,232.2 L797.0,227.4 L800.1,223.2 L803.1,219.6 L806.2,216.6 L809.2,214.2 L812.2,212.3 L815.3,211.1 L818.3,210.4 L821.3,210.3 L824.4,210.7 L827.4,211.7 L830.5,213.2 L833.5,215.3 L836.5,217.9 L839.6,221.0 L842.6,224.6 L845.6,228.7 L848.7,233.3 L851.7,238.4 L854.8,243.9 L857.8,249.9 L860.8,256.3 L863.9,263.2 L866.9,270.5 L870.0,278.2 L873.0,286.2 L876.0,294.7 L879.1,303.5 L882.1,312.7 L885.1,322.2 L888.2,332.0 L891.2,342.1 L894.3,352.6 L897.3,363.3 L900.3,374.3 L903.4,385.5 L906.4,397.0 L909.4,408.7 L912.5,420.7 L915.5,432.8 L918.6,445.2 L921.6,457.7 L924.6,470.4 L927.7,483.2 L930.7,496.2 L933.8,509.3 L936.8,522.6 L939.8,535.9 L942.9,549.3 L945.9,562.9 L948.9,576.5 L952.0,590.1 L955.0,603.9 L958.1,617.6 L961.1,631.4 L964.1,645.3 L967.2,659.1 L970.2,673.0 L973.2,686.8 L976.3,700.7 L979.3,714.5 L982.4,728.3 L985.4,742.0 L988.4,755.8 L991.5,769.4 L994.5,783.0 L997.5,796.6 L1000.6,810.1 L1003.6,823.5 L1006.7,836.9 L1009.7,850.1 L1012.7,863.3 L1015.8,876.3 L1018.8,889.3 L1021.9,902.2 L1024.9,914.9 L1027.9,927.6 L1031.0,940.1 L1034.0,952.5 L1037.0,964.8 L1040.1,977.0 L1043.1,989.0 L1046.2,1000.9 L1049.2,1012.7 L1052.2,1024.4 L1055.3,1035.9 L1058.3,1047.2 L1061.3,1058.4 L1064.4,1069.5 L1067.4,1080.4 L1070.5,1091.2 L1073.5,1101.9 L1076.5,1112.4 L1079.6,1122.7 L1082.6,1132.9 L1085.7,1143.0 L1088.7,1152.9 L1091.7,1162.6 L1094.8,1172.2 L1097.8,1181.7 L1100.8,1191.0 L1103.9,1200.1 L1106.9,1209.1 L1110.0,1218.0 L1113.0,1226.7 L1116.0,1235.3 L1119.1,1243.7 L1122.1,1251.9 L1125.1,1260.1 L1128.2,1268.0 L1131.2,1275.9 L1134.3,1283.6 L1137.3,1291.1 L1140.3,1298.6 L1143.4,1305.8 L1146.4,1313.0 L1149.5,1320.0 L1152.5,1326.9 L1155.5,1333.6 L1158.6,1340.2 L1161.6,1346.7 L1164.6,1353.0 L1167.7,1359.3 L1170.7,1365.4 L1173.8,1371.3 L1176.8,1377.2 L1179.8,1382.9 L1182.9,1388.5 L1185.9,1394.0 L1188.9,1399.4 L1192.0,1404.7 L1195.0,1409.8 L1198.1,1414.9 L1201.1,1419.8 L1204.1,1424.7 L1207.2,1429.4 L1210.2,1434.0 L1213.2,1438.5 L1216.3,1443.0 L1219.3,1447.3 L1222.4,1451.5 L1225.4,1455.6 L1228.4,1459.7 L1231.5,1463.6 L1234.5,1467.5 L1237.6,1471.3 L1240.6,1474.9 L1243.6,1478.5 L1246.7,1482.1 L1249.7,1485.5 L1252.7,1488.8 L1255.8,1492.1 L1258.8,1495.3 L1261.9,1498.4 L1264.9,1501.5 L1267.9,1504.5 L1271.0,1507.4 L1274.0,1510.2 L1277.0,1513.0 L1280.1,1515.7 L1283.1,1518.3 L1286.2,1520.9 L1289.2,1523.4 L1292.2,1525.8 L1295.3,1528.2 L1298.3,1530.5 L1301.3,1532.8 L1304.4,1535.0 L1307.4,1537.2 L1310.5,1539.3 L1313.5,1541.3 L1316.5,1543.3 L1319.6,1545.3 L1322.6,1547.2 L1325.7,1549.0 L1328.7,1550.8 L1331.7,1552.6 L1334.8,1554.3 L1337.8,1556.0 L1340.8,1557.6 L1343.9,1559.2 L1346.9,1560.8 L1350.0,1562.3 L1353.0,1563.7 L1356.0,1565.2 L1359.1,1566.6 L1362.1,1567.9 L1365.1,1569.2 L1368.2,1570.5 L1371.2,1571.8 L1374.3,1573.0 L1377.3,1574.2 L1380.3,1575.3 L1383.4,1576.5 L1386.4,1577.6 L1389.5,1578.6 L1392.5,1579.7 L1395.5,1580.7 L1398.6,1581.7 L1401.6,1582.6 L1404.6,1583.6 L1407.7,1584.5 L1410.7,1585.4 L1413.8,1586.2 L1416.8,1587.1 L1419.8,1587.9 L1422.9,1588.7 L1425.9,1589.5 L1428.9,1590.2 L1432.0,1590.9 L1435.0,1591.7 L1438.1,1592.3 L1441.1,1593.0 L1444.1,1593.7 L1447.2,1594.3 L1450.2,1594.9 L1453.2,1595.5 L1456.3,1596.1 L1459.3,1596.7 L1462.4,1597.3 L1465.4,1597.8 L1468.4,1598.3 L1471.5,1598.8 L1474.5,1599.3 L1477.6,1599.8 L1480.6,1600.3 L1483.6,1600.8 L1486.7,1601.2 L1489.7,1601.6 L1492.7,1602.1 L1495.8,1602.5 L1498.8,1602.9 L1501.9,1603.3 L1504.9,1603.6 L1507.9,1604.0 L1511.0,1604.4 L1514.0,1604.7 L1517.0,1605.1 L1520.1,1605.4 L1523.1,1605.7 L1526.2,1606.0 L1529.2,1606.3 L1532.2,1606.6 L1535.3,1606.9 L1538.3,1607.2 L1541.4,1607.4 L1544.4,1607.7 L1547.4,1608.0 L1550.5,1608.2 L1553.5,1608.5 L1556.5,1608.7 L1559.6,1608.9 L1562.6,1609.1 L1565.7,1609.4 L1568.7,1609.6 L1571.7,1609.8 L1574.8,1610.0 L1577.8,1610.2 L1580.8,1610.4 L1583.9,1610.5 L1586.9,1610.7 L1590.0,1610.9 L1593.0,1611.1 L1596.0,1611.2 L1599.1,1611.4 L1602.1,1611.5 L1605.2,1611.7 L1608.2,1611.8 L1611.2,1612.0 L1614.3,1612.1 L1617.3,1612.2 L1620.3,1612.4 L1623.4,1612.5 L1626.4,1612.6 L1629.5,1612.7 L1632.5,1612.9 L1635.5,1613.0 L1638.6,1613.1 L1641.6,1613.2 L1644.6,1613.3 L1647.7,1613.4 L1650.7,1613.5 L1653.8,1613.6 L1656.8,1613.7 L1659.8,1613.8 L1662.9,1613.9 L1665.9,1613.9 L1668.9,1614.0 L1672.0,1614.1 L1675.0,1614.2 L1678.1,1614.3 L1681.1,1614.3 L1684.1,1614.4 L1687.2,1614.5 L1690.2,1614.6 L1693.3,1614.6 L1696.3,1614.7 L1699.3,1614.7 L1702.4,1614.8 L1705.4,1614.9 L1708.4,1614.9 L1711.5,1615.0 L1714.5,1615.0 L1717.6,1615.1 L1720.6,1615.1 L1723.6,1615.2 L1726.7,1615.2 L1729.7,1615.3 L1732.7,1615.3 L1735.8,1615.4 L1738.8,1615.4 L1741.9,1615.5 L1744.9,1615.5 L1747.9,1615.5 L1751.0,1615.6 L1754.0,1615.6 L1757.0,1615.7 L1760.1,1615.7 L1763.1,1615.7 L1766.2,1615.8 L1769.2,1615.8 L1772.2,1615.8 L1775.3,1615.9 L1778.3,1615.9 L1781.4,1615.9 L1784.4,1616.0 L1787.4,1616.0 L1790.5,1616.0 L1793.5,1616.0 L1796.5,1616.1 L1799.6,1616.1 L1802.6,1616.1 L1805.7,1616.1 L1808.7,1616.2 L1811.7,1616.2 L1814.8,1616.2 L1817.8,1616.2 L1820.8,1616.2 L1823.9,1616.3 L1826.9,1616.3 L1830.0,1616.3 L1833.0,1616.3" stroke="#00ff00"/>
</g>
<rect x="892.8" y="841.3" width="8" height="782.3" rx="2" fill="#000000"/>
<rect x="539.2" y="1574.6" width="8" height="49.0" rx="2" fill="#000000"/>
<rect x="497.2" y="1589.7" width="8" height="33.9" rx="2" fill="#000000"/>
<rect x="884.6" y="829.8" width="23" height="23" fill="#757575"/>
<rect x="531.0" y="1563.1" width="23" height="23" fill="#757575"/>
<rect x="489.0" y="1578.2" width="23" height="23" fill="#757575"/>
<rect x="714.1" y="714.5" width="8" height="909.1" rx="2" fill="#ff0000"/>
<rect x="497.2" y="1548.5" width="8" height="75.1" rx="2" fill="#ff0000"/>
<rect x="444.7" y="1601.5" width="8" height="22.1" rx="2" fill="#ff0000"/>
<rect x="705.9" y="703.0" width="23" height="23" fill="#ff4040"/>
<rect x="489.0" y="1537.0" width="23" height="23" fill="#ff4040"/>
<rect x="436.5" y="1590.0" width="23" height="23" fill="#ff4040"/>
<rect x="975.1" y="459.5" width="8" height="1164.1" rx="2" fill="#0000ff"/>
<rect x="578.0" y="1545.3" width="8" height="78.3" rx="2" fill="#0000ff"/>
<rect x="479.9" y="1572.5" width="8" height="51.1" rx="2" fill="#0000ff"/>
<rect x="966.9" y="448.0" width="23" height="23" fill="#0070e0"/>
<rect x="569.8" y="1533.8" width="23" height="23" fill="#0070e0"/>
<rect x="472.9" y="1561.0" width="23" height="23" fill="#0070e0"/>
<rect x="818.2" y="404.5" width="8" height="1219.1" rx="2" fill="#00ff00"/>
<rect x="539.2" y="1581.5" width="8" height="42.1" rx="2" fill="#00ff00"/>
<rect x="810.0" y="393.0" width="23" height="23" fill="#00ff00"/>
<rect x="531.0" y="1570.0" width="23" height="23" fill="#00ff00"/>
<rect x="425.8" y="1602.9" width="23" height="23" fill="#00ff00"/>
<text x="283.8" y="1641.3" font-size="78.80" text-anchor="end" stroke="#000" stroke-width="0.6">0</text>
<text x="283.8" y="1207.5" font-size="78.80" text-anchor="end" stroke="#000" stroke-width="0.6">1</text>
<text x="283.8" y="773.8" font-size="78.80" text-anchor="end" stroke="#000" stroke-width="0.6">2</text>
<text x="283.8" y="340.0" font-size="78.80" text-anchor="end" stroke="#000" stroke-width="0.6">3</text>
<text x="1867.5" y="1641.3" font-size="78.80" stroke="#000" stroke-width="0.6">0.0</text>
<text x="1867.5" y="1337.7" font-size="78.80" stroke="#000" stroke-width="0.6">0.2</text>
<text x="1867.5" y="1034.0" font-size="78.80" stroke="#000" stroke-width="0.6">0.4</text>
<text x="1867.5" y="730.4" font-size="78.80" stroke="#000" stroke-width="0.6">0.6</text>
<text x="1867.5" y="426.7" font-size="78.80" stroke="#000" stroke-width="0.6">0.8</text>
<text x="1867.5" y="123.1" font-size="78.80" stroke="#000" stroke-width="0.6">1.0</text>
<text x="316.2" y="1715.1" font-size="78.80" text-anchor="middle" stroke="#000" stroke-width="0.6">300</text>
<text x="620.0" y="1715.1" font-size="78.80" text-anchor="middle" stroke="#000" stroke-width="0.6">400</text>
<text x="923.8" y="1715.1" font-size="78.80" text-anchor="middle" stroke="#000" stroke-width="0.6">500</text>
<text x="1227.6" y="1715.1" font-size="78.80" text-anchor="middle" stroke="#000" stroke-width="0.6">600</text>
<text x="1531.4" y="1715.1" font-size="78.80" text-anchor="middle" stroke="#000" stroke-width="0.6">700</text>
<text x="1835.2" y="1715.1" font-size="78.80" text-anchor="middle" stroke="#000" stroke-width="0.6">800</text>
<text transform="translate(0 1868.70) scale(0.9714 1)" x="788.2 861.9 906.9 947.8 992.6 1011.5 1057.0 1101.9 1146.9 1174.4" y="0" font-size="78.00" stroke="#000" stroke-width="0.6" stroke-linejoin="round">Wavelength</text>
<text transform="translate(1184.29 1879.44) skewX(-8.546) scale(1 1.2621)" x="0" y="0" font-size="78.00">/</text>
<text transform="translate(0 1868.70) scale(1.0193 1)" x="1194.5 1239.0" y="0" font-size="78.00" stroke="#000" stroke-width="0.6" stroke-linejoin="round">nm</text>
<text transform="translate(2129.50 0) rotate(-90) scale(0.9089 1)" x="-1319.9 -1258.0 -1218.6 -1178.5 -1158.1 -1136.0 -1117.5 -1066.4 -1035.0 -983.8" y="0" font-size="78.00" stroke="#000" stroke-width="0.6" stroke-linejoin="round">Oscillator</text>
<text transform="translate(2129.50 0) rotate(-90) scale(1.0069 1)" x="-847.3 -808.6 -780.5 -752.9 -709.2 -666.1 -622.9 -595.9" y="0" font-size="78.00" stroke="#000" stroke-width="0.6" stroke-linejoin="round">strength</text>
<text transform="translate(123.90 0) rotate(-90) scale(1.0051 1)" x="-1576.3 -1506.8 -1462.4 -1447.0 -1400.3" y="0" font-size="78.00" stroke="#000" stroke-width="0.6" stroke-linejoin="round">Molar</text>
<text transform="translate(123.90 0) rotate(-90) scale(0.9695 1)" x="-1406.5 -1359.6 -1317.0 -1277.5 -1230.7 -1200.6 -1152.8 -1124.9 -1103.5 -1057.5" y="0" font-size="78.00" stroke="#000" stroke-width="0.6" stroke-linejoin="round">absorption</text>
<text transform="translate(123.90 0) rotate(-90) scale(1.0010 1)" x="-962.9 -923.7 -880.1 -834.1 -808.1 -784.1 -766.5 -728.2 -709.3 -666.0 -618.8" y="0" font-size="78.00" stroke="#000" stroke-width="0.6" stroke-linejoin="round">coefficient</text>
<text transform="translate(123.90 0) rotate(-90) translate(-593.61 10.72) skewX(-8.519) scale(1 1.2776)" x="0" y="0" font-size="78.00">/</text>
<text transform="translate(123.90 0) rotate(-90) scale(0.9789 1)" x="-572.4 -528.3" y="0" font-size="78.00" stroke="#000" stroke-width="0.6" stroke-linejoin="round">10</text>
<text transform="translate(88.10 473.49) rotate(-90)" x="0" y="0" font-size="52.70" textLength="29.10" lengthAdjust="spacingAndGlyphs" stroke="#000" stroke-width="0.6" stroke-linejoin="round">4</text>
<text transform="translate(123.90 424.58) rotate(-90)" x="0" y="0" font-size="78.00" textLength="72.34" lengthAdjust="spacingAndGlyphs" stroke="#000" stroke-width="0.6" stroke-linejoin="round">M</text>
<text transform="translate(88.10 0) rotate(-90) scale(0.9861 1)" x="-356.5 -338.3" y="0" font-size="52.70" stroke="#000" stroke-width="0.6" stroke-linejoin="round">-1</text>
<text transform="translate(123.90 0) rotate(-90) scale(0.9629 1)" x="-296.2 -255.7" y="0" font-size="78.00" stroke="#000" stroke-width="0.6" stroke-linejoin="round">cm</text>
<text transform="translate(88.10 0) rotate(-90) scale(0.9917 1)" x="-181.1 -162.9" y="0" font-size="52.70" stroke="#000" stroke-width="0.6" stroke-linejoin="round">-1</text>
<text x="399.09" y="276.60" font-size="118.40" textLength="32.27" lengthAdjust="spacingAndGlyphs" font-weight="bold">(</text>
<text x="435.95" y="279.80" font-size="118.40" textLength="81.28" lengthAdjust="spacingAndGlyphs" font-weight="bold">A</text>
<text x="521.00" y="276.60" font-size="118.40" textLength="31.32" lengthAdjust="spacingAndGlyphs" font-weight="bold">)</text>
<text transform="translate(0 222.10) scale(0.8955 1)" x="1498.0 1534.7" y="0" font-size="52.00" font-weight="bold" stroke="#000" stroke-width="0.7" stroke-linejoin="round">CV</text>
<text x="1406.94" y="237.10" font-size="35.50" textLength="20.91" lengthAdjust="spacingAndGlyphs" font-weight="bold">0</text>
<text transform="translate(0 222.10) scale(0.8934 1)" x="1610.9 1629.8 1659.8 1690.9 1725.9 1733.8 1766.7 1800.3 1831.1 1859.7 1893.3" y="0" font-size="52.00" font-weight="bold" stroke="#000" stroke-width="0.7" stroke-linejoin="round">(gas phase)</text>
<text transform="translate(0 310.20) scale(0.8955 1)" x="1498.0 1534.7" y="0" font-size="52.00" font-weight="bold" stroke="#000" stroke-width="0.7" stroke-linejoin="round">CV</text>
<text transform="translate(0 326.20) scale(0.9061 1)" x="1553.1 1561.4 1581.5" y="0" font-size="35.50" font-weight="bold">iso</text>
<text transform="translate(0 310.20) scale(0.8934 1)" x="1639.7 1658.7 1688.7 1719.8 1754.8 1762.7 1795.6 1829.1 1860.0 1888.6 1922.1" y="0" font-size="52.00" font-weight="bold" stroke="#000" stroke-width="0.7" stroke-linejoin="round">(gas phase)</text>
<text transform="translate(0 398.20) scale(0.8955 1)" x="1498.0 1534.7" y="0" font-size="52.00" font-weight="bold" stroke="#000" stroke-width="0.7" stroke-linejoin="round">CV</text>
<text x="1406.94" y="413.20" font-size="35.50" textLength="20.91" lengthAdjust="spacingAndGlyphs" font-weight="bold">0</text>
<text transform="translate(0 398.20) scale(0.9043 1)" x="1591.4 1611.5 1627.6 1667.6 1672.1 1707.1 1728.5 1771.9 1812.8" y="0" font-size="52.00" font-weight="bold" stroke="#000" stroke-width="0.7" stroke-linejoin="round">(in EtOH)</text>
<text transform="translate(0 486.90) scale(0.8955 1)" x="1498.0 1534.7" y="0" font-size="52.00" font-weight="bold" stroke="#000" stroke-width="0.7" stroke-linejoin="round">CV</text>
<text transform="translate(0 502.90) scale(0.9061 1)" x="1553.1 1561.4 1581.5" y="0" font-size="35.50" font-weight="bold">iso</text>
<text transform="translate(0 486.90) scale(0.9043 1)" x="1619.9 1640.0 1656.1 1696.1 1700.6 1735.6 1757.0 1800.4 1841.4" y="0" font-size="52.00" font-weight="bold" stroke="#000" stroke-width="0.7" stroke-linejoin="round">(in EtOH)</text>
<path d="M1189.5,201.8 H1329.1" stroke="#000" stroke-width="8" stroke-linecap="round" fill="none"/>
<path d="M1189.5,290.1 H1329.1" stroke="#f00" stroke-width="8" stroke-linecap="round" fill="none"/>
<path d="M1189.5,378.4 H1329.1" stroke="#00f" stroke-width="8" stroke-linecap="round" fill="none"/>
<path d="M1189.5,466.7 H1329.1" stroke="#0f0" stroke-width="8" stroke-linecap="round" fill="none"/>
</g>
<g>
<rect x="314" y="2026" width="1519" height="1515" fill="none" stroke="#000" stroke-width="12"/>
<path d="M308,3541.0 h11 v-30 h-11 z M460,3541.0 h11 v-15 h-11 z M612,3541.0 h11 v-30 h-11 z M764,3541.0 h11 v-15 h-11 z M916,3541.0 h11 v-30 h-11 z M1068,3541.0 h11 v-15 h-11 z M1220,3541.0 h11 v-30 h-11 z M1372,3541.0 h11 v-15 h-11 z M1524,3541.0 h11 v-30 h-11 z M1676,3541.0 h11 v-15 h-11 z M1828,3541.0 h11 v-30 h-11 z M314.0,3535 h30 v12 h-30 z M314.0,3346 h15 v12 h-15 z M314.0,3157 h30 v12 h-30 z M314.0,2967 h15 v12 h-15 z M314.0,2778 h30 v12 h-30 z M314.0,2589 h15 v12 h-15 z M314.0,2399 h30 v12 h-30 z M314.0,2210 h15 v12 h-15 z M314.0,2020 h30 v12 h-30 z M1833.0,3535 h-30 v12 h30 z M1833.0,3283 h-15 v12 h15 z M1833.0,3030 h-30 v12 h30 z M1833.0,2778 h-15 v12 h15 z M1833.0,2526 h-30 v12 h30 z M1833.0,2273 h-15 v12 h15 z M1833.0,2020 h-30 v12 h30 z" fill="#000" stroke="none"/>
<clipPath id="clip1924"><rect x="314" y="2020" width="1520.5" height="1522"/></clipPath>
<g clip-path="url(#clip1924)" fill="none" stroke-width="8.3" stroke-linejoin="round" stroke-linecap="butt">
<path d="M314.0,3541.0 L317.0,3541.0 L320.1,3541.0 L323.1,3541.0 L326.2,3540.9 L329.2,3540.9 L332.2,3540.9 L335.3,3540.9 L338.3,3540.9 L341.3,3540.9 L344.4,3540.9 L347.4,3540.8 L350.5,3540.8 L353.5,3540.8 L356.5,3540.8 L359.6,3540.7 L362.6,3540.7 L365.6,3540.6 L368.7,3540.6 L371.7,3540.5 L374.8,3540.5 L377.8,3540.4 L380.8,3540.3 L383.9,3540.3 L386.9,3540.2 L389.9,3540.1 L393.0,3540.0 L396.0,3539.9 L399.1,3539.8 L402.1,3539.6 L405.1,3539.5 L408.2,3539.4 L411.2,3539.2 L414.3,3539.0 L417.3,3538.9 L420.3,3538.7 L423.4,3538.5 L426.4,3538.3 L429.4,3538.0 L432.5,3537.8 L435.5,3537.5 L438.6,3537.3 L441.6,3537.0 L444.6,3536.7 L447.7,3536.4 L450.7,3536.0 L453.7,3535.7 L456.8,3535.3 L459.8,3534.9 L462.9,3534.5 L465.9,3534.1 L468.9,3533.7 L472.0,3533.2 L475.0,3532.7 L478.1,3532.2 L481.1,3531.7 L484.1,3531.2 L487.2,3530.6 L490.2,3530.0 L493.2,3529.4 L496.3,3528.7 L499.3,3528.0 L502.4,3527.3 L505.4,3526.6 L508.4,3525.8 L511.5,3524.9 L514.5,3524.1 L517.5,3523.2 L520.6,3522.2 L523.6,3521.2 L526.7,3520.1 L529.7,3519.0 L532.7,3517.8 L535.8,3516.6 L538.8,3515.3 L541.9,3513.9 L544.9,3512.4 L547.9,3510.9 L551.0,3509.2 L554.0,3507.5 L557.0,3505.7 L560.1,3503.8 L563.1,3501.7 L566.2,3499.6 L569.2,3497.3 L572.2,3494.9 L575.3,3492.4 L578.3,3489.7 L581.3,3486.9 L584.4,3483.9 L587.4,3480.7 L590.5,3477.4 L593.5,3473.9 L596.5,3470.3 L599.6,3466.4 L602.6,3462.4 L605.6,3458.1 L608.7,3453.6 L611.7,3448.9 L614.8,3444.0 L617.8,3438.8 L620.8,3433.4 L623.9,3427.8 L626.9,3421.9 L630.0,3415.8 L633.0,3409.3 L636.0,3402.7 L639.1,3395.7 L642.1,3388.5 L645.1,3380.9 L648.2,3373.1 L651.2,3365.0 L654.3,3356.7 L657.3,3348.0 L660.3,3339.0 L663.4,3329.7 L666.4,3320.1 L669.4,3310.2 L672.5,3300.0 L675.5,3289.5 L678.6,3278.7 L681.6,3267.6 L684.6,3256.2 L687.7,3244.5 L690.7,3232.5 L693.8,3220.2 L696.8,3207.7 L699.8,3194.8 L702.9,3181.7 L705.9,3168.3 L708.9,3154.7 L712.0,3140.7 L715.0,3126.6 L718.1,3112.2 L721.1,3097.5 L724.1,3082.7 L727.2,3067.6 L730.2,3052.3 L733.2,3036.9 L736.3,3021.2 L739.3,3005.4 L742.4,2989.4 L745.4,2973.2 L748.4,2957.0 L751.5,2940.6 L754.5,2924.1 L757.5,2907.5 L760.6,2890.8 L763.6,2874.0 L766.7,2857.2 L769.7,2840.4 L772.7,2823.5 L775.8,2806.6 L778.8,2789.7 L781.9,2772.8 L784.9,2756.0 L787.9,2739.2 L791.0,2722.4 L794.0,2705.8 L797.0,2689.2 L800.1,2672.7 L803.1,2656.3 L806.2,2640.1 L809.2,2624.0 L812.2,2608.1 L815.3,2592.3 L818.3,2576.8 L821.3,2561.4 L824.4,2546.2 L827.4,2531.3 L830.5,2516.6 L833.5,2502.1 L836.5,2487.9 L839.6,2473.9 L842.6,2460.3 L845.6,2446.9 L848.7,2433.8 L851.7,2421.1 L854.8,2408.6 L857.8,2396.5 L860.8,2384.7 L863.9,2373.3 L866.9,2362.2 L870.0,2351.5 L873.0,2341.1 L876.0,2331.1 L879.1,2321.5 L882.1,2312.2 L885.1,2303.4 L888.2,2294.9 L891.2,2286.8 L894.3,2279.2 L897.3,2271.9 L900.3,2265.0 L903.4,2258.5 L906.4,2252.4 L909.4,2246.8 L912.5,2241.5 L915.5,2236.6 L918.6,2232.2 L921.6,2228.2 L924.6,2224.5 L927.7,2221.3 L930.7,2218.4 L933.8,2216.0 L936.8,2214.0 L939.8,2212.3 L942.9,2211.1 L945.9,2210.2 L948.9,2209.7 L952.0,2209.6 L955.0,2209.9 L958.1,2210.5 L961.1,2211.6 L964.1,2212.9 L967.2,2214.7 L970.2,2216.7 L973.2,2219.2 L976.3,2221.9 L979.3,2225.0 L982.4,2228.5 L985.4,2232.2 L988.4,2236.3 L991.5,2240.6 L994.5,2245.3 L997.5,2250.3 L1000.6,2255.5 L1003.6,2261.0 L1006.7,2266.8 L1009.7,2272.9 L1012.7,2279.2 L1015.8,2285.8 L1018.8,2292.6 L1021.9,2299.6 L1024.9,2306.9 L1027.9,2314.4 L1031.0,2322.1 L1034.0,2330.0 L1037.0,2338.1 L1040.1,2346.4 L1043.1,2354.8 L1046.2,2363.5 L1049.2,2372.3 L1052.2,2381.3 L1055.3,2390.4 L1058.3,2399.7 L1061.3,2409.1 L1064.4,2418.6 L1067.4,2428.3 L1070.5,2438.0 L1073.5,2447.9 L1076.5,2457.9 L1079.6,2468.0 L1082.6,2478.2 L1085.7,2488.4 L1088.7,2498.8 L1091.7,2509.2 L1094.8,2519.6 L1097.8,2530.2 L1100.8,2540.7 L1103.9,2551.4 L1106.9,2562.0 L1110.0,2572.7 L1113.0,2583.5 L1116.0,2594.2 L1119.1,2605.0 L1122.1,2615.8 L1125.1,2626.6 L1128.2,2637.4 L1131.2,2648.2 L1134.3,2659.0 L1137.3,2669.8 L1140.3,2680.5 L1143.4,2691.3 L1146.4,2702.0 L1149.5,2712.7 L1152.5,2723.4 L1155.5,2734.0 L1158.6,2744.6 L1161.6,2755.2 L1164.6,2765.7 L1167.7,2776.2 L1170.7,2786.6 L1173.8,2797.0 L1176.8,2807.3 L1179.8,2817.6 L1182.9,2827.8 L1185.9,2837.9 L1188.9,2848.0 L1192.0,2858.0 L1195.0,2867.9 L1198.1,2877.8 L1201.1,2887.6 L1204.1,2897.3 L1207.2,2906.9 L1210.2,2916.5 L1213.2,2925.9 L1216.3,2935.3 L1219.3,2944.6 L1222.4,2953.8 L1225.4,2963.0 L1228.4,2972.0 L1231.5,2981.0 L1234.5,2989.8 L1237.6,2998.6 L1240.6,3007.3 L1243.6,3015.9 L1246.7,3024.4 L1249.7,3032.8 L1252.7,3041.1 L1255.8,3049.3 L1258.8,3057.5 L1261.9,3065.5 L1264.9,3073.4 L1267.9,3081.3 L1271.0,3089.0 L1274.0,3096.7 L1277.0,3104.2 L1280.1,3111.7 L1283.1,3119.0 L1286.2,3126.3 L1289.2,3133.5 L1292.2,3140.5 L1295.3,3147.5 L1298.3,3154.4 L1301.3,3161.2 L1304.4,3167.9 L1307.4,3174.5 L1310.5,3181.0 L1313.5,3187.5 L1316.5,3193.8 L1319.6,3200.0 L1322.6,3206.2 L1325.7,3212.2 L1328.7,3218.2 L1331.7,3224.1 L1334.8,3229.9 L1337.8,3235.6 L1340.8,3241.2 L1343.9,3246.7 L1346.9,3252.2 L1350.0,3257.5 L1353.0,3262.8 L1356.0,3268.0 L1359.1,3273.1 L1362.1,3278.1 L1365.1,3283.1 L1368.2,3288.0 L1371.2,3292.7 L1374.3,3297.5 L1377.3,3302.1 L1380.3,3306.6 L1383.4,3311.1 L1386.4,3315.5 L1389.5,3319.9 L1392.5,3324.1 L1395.5,3328.3 L1398.6,3332.4 L1401.6,3336.5 L1404.6,3340.4 L1407.7,3344.3 L1410.7,3348.2 L1413.8,3351.9 L1416.8,3355.6 L1419.8,3359.3 L1422.9,3362.9 L1425.9,3366.4 L1428.9,3369.8 L1432.0,3373.2 L1435.0,3376.5 L1438.1,3379.8 L1441.1,3383.0 L1444.1,3386.1 L1447.2,3389.2 L1450.2,3392.3 L1453.2,3395.2 L1456.3,3398.2 L1459.3,3401.0 L1462.4,3403.8 L1465.4,3406.6 L1468.4,3409.3 L1471.5,3412.0 L1474.5,3414.6 L1477.6,3417.1 L1480.6,3419.6 L1483.6,3422.1 L1486.7,3424.5 L1489.7,3426.9 L1492.7,3429.2 L1495.8,3431.5 L1498.8,3433.7 L1501.9,3435.9 L1504.9,3438.1 L1507.9,3440.2 L1511.0,3442.3 L1514.0,3444.3 L1517.0,3446.3 L1520.1,3448.2 L1523.1,3450.2 L1526.2,3452.0 L1529.2,3453.9 L1532.2,3455.7 L1535.3,3457.4 L1538.3,3459.2 L1541.4,3460.9 L1544.4,3462.5 L1547.4,3464.2 L1550.5,3465.8 L1553.5,3467.3 L1556.5,3468.9 L1559.6,3470.4 L1562.6,3471.8 L1565.7,3473.3 L1568.7,3474.7 L1571.7,3476.1 L1574.8,3477.4 L1577.8,3478.8 L1580.8,3480.1 L1583.9,3481.3 L1586.9,3482.6 L1590.0,3483.8 L1593.0,3485.0 L1596.0,3486.2 L1599.1,3487.4 L1602.1,3488.5 L1605.2,3489.6 L1608.2,3490.7 L1611.2,3491.7 L1614.3,3492.8 L1617.3,3493.8 L1620.3,3494.8 L1623.4,3495.8 L1626.4,3496.7 L1629.5,3497.6 L1632.5,3498.6 L1635.5,3499.5 L1638.6,3500.3 L1641.6,3501.2 L1644.6,3502.0 L1647.7,3502.9 L1650.7,3503.7 L1653.8,3504.5 L1656.8,3505.2 L1659.8,3506.0 L1662.9,3506.7 L1665.9,3507.5 L1668.9,3508.2 L1672.0,3508.9 L1675.0,3509.5 L1678.1,3510.2 L1681.1,3510.9 L1684.1,3511.5 L1687.2,3512.1 L1690.2,3512.7 L1693.3,3513.3 L1696.3,3513.9 L1699.3,3514.5 L1702.4,3515.1 L1705.4,3515.6 L1708.4,3516.2 L1711.5,3516.7 L1714.5,3517.2 L1717.6,3517.7 L1720.6,3518.2 L1723.6,3518.7 L1726.7,3519.2 L1729.7,3519.6 L1732.7,3520.1 L1735.8,3520.5 L1738.8,3521.0 L1741.9,3521.4 L1744.9,3521.8 L1747.9,3522.2 L1751.0,3522.6 L1754.0,3523.0 L1757.0,3523.4 L1760.1,3523.8 L1763.1,3524.1 L1766.2,3524.5 L1769.2,3524.8 L1772.2,3525.2 L1775.3,3525.5 L1778.3,3525.8 L1781.4,3526.2 L1784.4,3526.5 L1787.4,3526.8 L1790.5,3527.1 L1793.5,3527.4 L1796.5,3527.7 L1799.6,3528.0 L1802.6,3528.2 L1805.7,3528.5 L1808.7,3528.8 L1811.7,3529.0 L1814.8,3529.3 L1817.8,3529.5 L1820.8,3529.8 L1823.9,3530.0 L1826.9,3530.2 L1830.0,3530.5 L1833.0,3530.7" stroke="#000000"/>
<path d="M314.0,3540.9 L317.0,3540.9 L320.1,3540.8 L323.1,3540.8 L326.2,3540.8 L329.2,3540.8 L332.2,3540.8 L335.3,3540.8 L338.3,3540.7 L341.3,3540.7 L344.4,3540.7 L347.4,3540.7 L350.5,3540.6 L353.5,3540.6 L356.5,3540.6 L359.6,3540.5 L362.6,3540.5 L365.6,3540.5 L368.7,3540.4 L371.7,3540.4 L374.8,3540.4 L377.8,3540.3 L380.8,3540.3 L383.9,3540.3 L386.9,3540.2 L389.9,3540.2 L393.0,3540.2 L396.0,3540.1 L399.1,3540.1 L402.1,3540.1 L405.1,3540.0 L408.2,3540.0 L411.2,3539.9 L414.3,3539.9 L417.3,3539.9 L420.3,3539.8 L423.4,3539.8 L426.4,3539.8 L429.4,3539.7 L432.5,3539.7 L435.5,3539.6 L438.6,3539.6 L441.6,3539.6 L444.6,3539.5 L447.7,3539.5 L450.7,3539.4 L453.7,3539.4 L456.8,3539.4 L459.8,3539.3 L462.9,3539.3 L465.9,3539.2 L468.9,3539.1 L472.0,3539.1 L475.0,3539.0 L478.1,3538.9 L481.1,3538.9 L484.1,3538.8 L487.2,3538.7 L490.2,3538.6 L493.2,3538.5 L496.3,3538.4 L499.3,3538.2 L502.4,3538.1 L505.4,3538.0 L508.4,3537.8 L511.5,3537.6 L514.5,3537.4 L517.5,3537.2 L520.6,3537.0 L523.6,3536.7 L526.7,3536.4 L529.7,3536.1 L532.7,3535.8 L535.8,3535.4 L538.8,3535.1 L541.9,3534.7 L544.9,3534.2 L547.9,3533.7 L551.0,3533.2 L554.0,3532.7 L557.0,3532.1 L560.1,3531.4 L563.1,3530.8 L566.2,3530.0 L569.2,3529.2 L572.2,3528.4 L575.3,3527.5 L578.3,3526.6 L581.3,3525.6 L584.4,3524.5 L587.4,3523.4 L590.5,3522.2 L593.5,3520.9 L596.5,3519.5 L599.6,3518.1 L602.6,3516.6 L605.6,3515.0 L608.7,3513.3 L611.7,3511.5 L614.8,3509.6 L617.8,3507.6 L620.8,3505.5 L623.9,3503.4 L626.9,3501.1 L630.0,3498.6 L633.0,3496.1 L636.0,3493.5 L639.1,3490.7 L642.1,3487.8 L645.1,3484.8 L648.2,3481.6 L651.2,3478.3 L654.3,3474.9 L657.3,3471.3 L660.3,3467.5 L663.4,3463.7 L666.4,3459.6 L669.4,3455.4 L672.5,3451.1 L675.5,3446.6 L678.6,3441.9 L681.6,3437.0 L684.6,3432.0 L687.7,3426.8 L690.7,3421.5 L693.8,3415.9 L696.8,3410.2 L699.8,3404.3 L702.9,3398.3 L705.9,3392.0 L708.9,3385.6 L712.0,3379.0 L715.0,3372.2 L718.1,3365.2 L721.1,3358.0 L724.1,3350.7 L727.2,3343.1 L730.2,3335.4 L733.2,3327.5 L736.3,3319.4 L739.3,3311.2 L742.4,3302.8 L745.4,3294.2 L748.4,3285.4 L751.5,3276.4 L754.5,3267.3 L757.5,3258.0 L760.6,3248.6 L763.6,3239.0 L766.7,3229.3 L769.7,3219.4 L772.7,3209.3 L775.8,3199.1 L778.8,3188.8 L781.9,3178.3 L784.9,3167.8 L787.9,3157.1 L791.0,3146.2 L794.0,3135.3 L797.0,3124.3 L800.1,3113.2 L803.1,3101.9 L806.2,3090.6 L809.2,3079.3 L812.2,3067.8 L815.3,3056.3 L818.3,3044.7 L821.3,3033.1 L824.4,3021.4 L827.4,3009.7 L830.5,2998.0 L833.5,2986.2 L836.5,2974.5 L839.6,2962.7 L842.6,2951.0 L845.6,2939.2 L848.7,2927.5 L851.7,2915.8 L854.8,2904.1 L857.8,2892.4 L860.8,2880.9 L863.9,2869.3 L866.9,2857.9 L870.0,2846.5 L873.0,2835.2 L876.0,2824.0 L879.1,2812.8 L882.1,2801.8 L885.1,2790.9 L888.2,2780.1 L891.2,2769.4 L894.3,2758.9 L897.3,2748.5 L900.3,2738.2 L903.4,2728.1 L906.4,2718.1 L909.4,2708.3 L912.5,2698.7 L915.5,2689.2 L918.6,2680.0 L921.6,2670.9 L924.6,2662.0 L927.7,2653.3 L930.7,2644.8 L933.8,2636.5 L936.8,2628.4 L939.8,2620.5 L942.9,2612.8 L945.9,2605.4 L948.9,2598.1 L952.0,2591.1 L955.0,2584.4 L958.1,2577.8 L961.1,2571.5 L964.1,2565.5 L967.2,2559.7 L970.2,2554.1 L973.2,2548.7 L976.3,2543.6 L979.3,2538.8 L982.4,2534.2 L985.4,2529.8 L988.4,2525.7 L991.5,2521.9 L994.5,2518.3 L997.5,2514.9 L1000.6,2511.8 L1003.6,2508.9 L1006.7,2506.3 L1009.7,2504.0 L1012.7,2501.9 L1015.8,2500.0 L1018.8,2498.4 L1021.9,2497.0 L1024.9,2495.8 L1027.9,2494.9 L1031.0,2494.3 L1034.0,2493.8 L1037.0,2493.6 L1040.1,2493.7 L1043.1,2493.9 L1046.2,2494.4 L1049.2,2495.1 L1052.2,2496.1 L1055.3,2497.2 L1058.3,2498.6 L1061.3,2500.2 L1064.4,2502.0 L1067.4,2504.0 L1070.5,2506.2 L1073.5,2508.6 L1076.5,2511.2 L1079.6,2513.9 L1082.6,2516.9 L1085.7,2520.1 L1088.7,2523.4 L1091.7,2526.9 L1094.8,2530.6 L1097.8,2534.4 L1100.8,2538.5 L1103.9,2542.6 L1106.9,2547.0 L1110.0,2551.5 L1113.0,2556.1 L1116.0,2560.9 L1119.1,2565.8 L1122.1,2570.8 L1125.1,2576.0 L1128.2,2581.3 L1131.2,2586.8 L1134.3,2592.4 L1137.3,2598.0 L1140.3,2603.8 L1143.4,2609.7 L1146.4,2615.7 L1149.5,2621.8 L1152.5,2628.0 L1155.5,2634.3 L1158.6,2640.7 L1161.6,2647.1 L1164.6,2653.7 L1167.7,2660.3 L1170.7,2667.0 L1173.8,2673.7 L1176.8,2680.5 L1179.8,2687.4 L1182.9,2694.4 L1185.9,2701.4 L1188.9,2708.4 L1192.0,2715.5 L1195.0,2722.7 L1198.1,2729.8 L1201.1,2737.1 L1204.1,2744.3 L1207.2,2751.6 L1210.2,2758.9 L1213.2,2766.2 L1216.3,2773.6 L1219.3,2781.0 L1222.4,2788.4 L1225.4,2795.8 L1228.4,2803.2 L1231.5,2810.6 L1234.5,2818.0 L1237.6,2825.5 L1240.6,2832.9 L1243.6,2840.3 L1246.7,2847.8 L1249.7,2855.2 L1252.7,2862.6 L1255.8,2870.0 L1258.8,2877.4 L1261.9,2884.7 L1264.9,2892.1 L1267.9,2899.4 L1271.0,2906.7 L1274.0,2914.0 L1277.0,2921.3 L1280.1,2928.5 L1283.1,2935.7 L1286.2,2942.9 L1289.2,2950.0 L1292.2,2957.1 L1295.3,2964.2 L1298.3,2971.2 L1301.3,2978.3 L1304.4,2985.2 L1307.4,2992.1 L1310.5,2999.0 L1313.5,3005.9 L1316.5,3012.7 L1319.6,3019.4 L1322.6,3026.1 L1325.7,3032.8 L1328.7,3039.4 L1331.7,3045.9 L1334.8,3052.5 L1337.8,3058.9 L1340.8,3065.3 L1343.9,3071.7 L1346.9,3078.0 L1350.0,3084.3 L1353.0,3090.5 L1356.0,3096.6 L1359.1,3102.7 L1362.1,3108.8 L1365.1,3114.8 L1368.2,3120.7 L1371.2,3126.6 L1374.3,3132.4 L1377.3,3138.2 L1380.3,3143.9 L1383.4,3149.5 L1386.4,3155.1 L1389.5,3160.7 L1392.5,3166.2 L1395.5,3171.6 L1398.6,3177.0 L1401.6,3182.3 L1404.6,3187.5 L1407.7,3192.7 L1410.7,3197.9 L1413.8,3202.9 L1416.8,3208.0 L1419.8,3212.9 L1422.9,3217.8 L1425.9,3222.7 L1428.9,3227.5 L1432.0,3232.2 L1435.0,3236.9 L1438.1,3241.5 L1441.1,3246.1 L1444.1,3250.6 L1447.2,3255.1 L1450.2,3259.5 L1453.2,3263.9 L1456.3,3268.2 L1459.3,3272.4 L1462.4,3276.6 L1465.4,3280.7 L1468.4,3284.8 L1471.5,3288.8 L1474.5,3292.8 L1477.6,3296.7 L1480.6,3300.6 L1483.6,3304.4 L1486.7,3308.2 L1489.7,3311.9 L1492.7,3315.6 L1495.8,3319.2 L1498.8,3322.7 L1501.9,3326.3 L1504.9,3329.7 L1507.9,3333.1 L1511.0,3336.5 L1514.0,3339.8 L1517.0,3343.1 L1520.1,3346.3 L1523.1,3349.5 L1526.2,3352.7 L1529.2,3355.8 L1532.2,3358.8 L1535.3,3361.8 L1538.3,3364.8 L1541.4,3367.7 L1544.4,3370.5 L1547.4,3373.4 L1550.5,3376.2 L1553.5,3378.9 L1556.5,3381.6 L1559.6,3384.3 L1562.6,3386.9 L1565.7,3389.5 L1568.7,3392.0 L1571.7,3394.5 L1574.8,3397.0 L1577.8,3399.4 L1580.8,3401.8 L1583.9,3404.2 L1586.9,3406.5 L1590.0,3408.8 L1593.0,3411.0 L1596.0,3413.2 L1599.1,3415.4 L1602.1,3417.6 L1605.2,3419.7 L1608.2,3421.8 L1611.2,3423.8 L1614.3,3425.8 L1617.3,3427.8 L1620.3,3429.7 L1623.4,3431.6 L1626.4,3433.5 L1629.5,3435.4 L1632.5,3437.2 L1635.5,3439.0 L1638.6,3440.8 L1641.6,3442.5 L1644.6,3444.2 L1647.7,3445.9 L1650.7,3447.5 L1653.8,3449.2 L1656.8,3450.8 L1659.8,3452.3 L1662.9,3453.9 L1665.9,3455.4 L1668.9,3456.9 L1672.0,3458.4 L1675.0,3459.8 L1678.1,3461.2 L1681.1,3462.6 L1684.1,3464.0 L1687.2,3465.3 L1690.2,3466.7 L1693.3,3468.0 L1696.3,3469.3 L1699.3,3470.5 L1702.4,3471.8 L1705.4,3473.0 L1708.4,3474.2 L1711.5,3475.4 L1714.5,3476.5 L1717.6,3477.7 L1720.6,3478.8 L1723.6,3479.9 L1726.7,3481.0 L1729.7,3482.0 L1732.7,3483.1 L1735.8,3484.1 L1738.8,3485.1 L1741.9,3486.1 L1744.9,3487.1 L1747.9,3488.0 L1751.0,3489.0 L1754.0,3489.9 L1757.0,3490.8 L1760.1,3491.7 L1763.1,3492.6 L1766.2,3493.4 L1769.2,3494.3 L1772.2,3495.1 L1775.3,3495.9 L1778.3,3496.7 L1781.4,3497.5 L1784.4,3498.3 L1787.4,3499.1 L1790.5,3499.8 L1793.5,3500.5 L1796.5,3501.3 L1799.6,3502.0 L1802.6,3502.7 L1805.7,3503.3 L1808.7,3504.0 L1811.7,3504.7 L1814.8,3505.3 L1817.8,3506.0 L1820.8,3506.6 L1823.9,3507.2 L1826.9,3507.8 L1830.0,3508.4 L1833.0,3509.0" stroke="#ff0000"/>
</g>
<rect x="949.3" y="2451.1" width="8" height="1096.5" rx="2" fill="#000000"/>
<rect x="669.2" y="3522.4" width="8" height="25.2" rx="2" fill="#000000"/>
<rect x="941.1" y="2439.6" width="23" height="23" fill="#757575"/>
<rect x="661.0" y="3510.9" width="23" height="23" fill="#757575"/>
<rect x="455.9" y="3530.8" width="23" height="23" fill="#757575"/>
<rect x="1042.3" y="2704.6" width="8" height="843.0" rx="2" fill="#ff0000"/>
<rect x="828.1" y="3495.9" width="8" height="51.7" rx="2" fill="#ff0000"/>
<rect x="1034.1" y="2693.1" width="23" height="23" fill="#ff4040"/>
<rect x="819.9" y="3484.4" width="23" height="23" fill="#ff4040"/>
<rect x="630.0" y="3530.8" width="23" height="23" fill="#ff4040"/>
<text x="316.2" y="3639.1" font-size="78.80" text-anchor="middle" stroke="#000" stroke-width="0.6">300</text>
<text x="620.0" y="3639.1" font-size="78.80" text-anchor="middle" stroke="#000" stroke-width="0.6">400</text>
<text x="923.8" y="3639.1" font-size="78.80" text-anchor="middle" stroke="#000" stroke-width="0.6">500</text>
<text x="1227.6" y="3639.1" font-size="78.80" text-anchor="middle" stroke="#000" stroke-width="0.6">600</text>
<text x="1531.4" y="3639.1" font-size="78.80" text-anchor="middle" stroke="#000" stroke-width="0.6">700</text>
<text x="1835.2" y="3639.1" font-size="78.80" text-anchor="middle" stroke="#000" stroke-width="0.6">800</text>
<text transform="translate(0 3792.70) scale(0.9714 1)" x="788.2 861.9 906.9 947.8 992.6 1011.5 1057.0 1101.9 1146.9 1174.4" y="0" font-size="78.00" stroke="#000" stroke-width="0.6" stroke-linejoin="round">Wavelength</text>
<text transform="translate(1184.29 3803.44) skewX(-8.546) scale(1 1.2621)" x="0" y="0" font-size="78.00">/</text>
<text transform="translate(0 3792.70) scale(1.0193 1)" x="1194.5 1239.0" y="0" font-size="78.00" stroke="#000" stroke-width="0.6" stroke-linejoin="round">nm</text>
<text transform="translate(2129.50 0) rotate(-90) scale(0.9089 1)" x="-3436.8 -3374.9 -3335.5 -3295.3 -3275.0 -3252.9 -3234.4 -3183.3 -3151.9 -3100.7" y="0" font-size="78.00" stroke="#000" stroke-width="0.6" stroke-linejoin="round">Oscillator</text>
<text transform="translate(2129.50 0) rotate(-90) scale(1.0069 1)" x="-2758.2 -2719.4 -2691.3 -2663.7 -2620.0 -2576.9 -2533.8 -2506.7" y="0" font-size="78.00" stroke="#000" stroke-width="0.6" stroke-linejoin="round">strength</text>
<text transform="translate(123.90 0) rotate(-90) scale(1.0051 1)" x="-3490.6 -3421.1 -3376.6 -3361.2 -3314.5" y="0" font-size="78.00" stroke="#000" stroke-width="0.6" stroke-linejoin="round">Molar</text>
<text transform="translate(123.90 0) rotate(-90) scale(0.9695 1)" x="-3391.1 -3344.2 -3301.6 -3262.1 -3215.3 -3185.2 -3137.4 -3109.5 -3088.1 -3042.1" y="0" font-size="78.00" stroke="#000" stroke-width="0.6" stroke-linejoin="round">absorption</text>
<text transform="translate(123.90 0) rotate(-90) scale(1.0010 1)" x="-2884.9 -2845.7 -2802.1 -2756.1 -2730.1 -2706.1 -2688.5 -2650.2 -2631.3 -2588.0 -2540.8" y="0" font-size="78.00" stroke="#000" stroke-width="0.6" stroke-linejoin="round">coefficient</text>
<text transform="translate(123.90 0) rotate(-90) translate(-2517.61 10.72) skewX(-8.519) scale(1 1.2776)" x="0" y="0" font-size="78.00">/</text>
<text transform="translate(123.90 0) rotate(-90) scale(0.9789 1)" x="-2537.9 -2493.8" y="0" font-size="78.00" stroke="#000" stroke-width="0.6" stroke-linejoin="round">10</text>
<text transform="translate(88.10 2397.49) rotate(-90)" x="0" y="0" font-size="52.70" textLength="29.10" lengthAdjust="spacingAndGlyphs" stroke="#000" stroke-width="0.6" stroke-linejoin="round">4</text>
<text transform="translate(123.90 2348.58) rotate(-90)" x="0" y="0" font-size="78.00" textLength="72.34" lengthAdjust="spacingAndGlyphs" stroke="#000" stroke-width="0.6" stroke-linejoin="round">M</text>
<text transform="translate(88.10 0) rotate(-90) scale(0.9861 1)" x="-2307.6 -2289.4" y="0" font-size="52.70" stroke="#000" stroke-width="0.6" stroke-linejoin="round">-1</text>
<text transform="translate(123.90 0) rotate(-90) scale(0.9629 1)" x="-2294.3 -2253.8" y="0" font-size="78.00" stroke="#000" stroke-width="0.6" stroke-linejoin="round">cm</text>
<text transform="translate(88.10 0) rotate(-90) scale(0.9917 1)" x="-2121.3 -2103.1" y="0" font-size="52.70" stroke="#000" stroke-width="0.6" stroke-linejoin="round">-1</text>
<text x="283.8" y="3565.3" font-size="78.80" text-anchor="end" stroke="#000" stroke-width="0.6">0</text>
<text x="283.8" y="3185.8" font-size="78.80" text-anchor="end" stroke="#000" stroke-width="0.6">1</text>
<text x="283.8" y="2806.2" font-size="78.80" text-anchor="end" stroke="#000" stroke-width="0.6">2</text>
<text x="283.8" y="2426.7" font-size="78.80" text-anchor="end" stroke="#000" stroke-width="0.6">3</text>
<text x="283.8" y="2047.1" font-size="78.80" text-anchor="end" stroke="#000" stroke-width="0.6">4</text>
<text x="1867.5" y="3565.3" font-size="78.80" stroke="#000" stroke-width="0.6">0.0</text>
<text x="1867.5" y="3059.2" font-size="78.80" stroke="#000" stroke-width="0.6">0.4</text>
<text x="1867.5" y="2553.2" font-size="78.80" stroke="#000" stroke-width="0.6">0.8</text>
<text x="1867.5" y="2047.1" font-size="78.80" stroke="#000" stroke-width="0.6">1.2</text>
<text x="399.09" y="2200.60" font-size="118.40" textLength="32.27" lengthAdjust="spacingAndGlyphs" font-weight="bold">(</text>
<text x="439.33" y="2203.80" font-size="118.40" textLength="70.18" lengthAdjust="spacingAndGlyphs" font-weight="bold">B</text>
<text x="514.90" y="2200.60" font-size="118.40" textLength="31.55" lengthAdjust="spacingAndGlyphs" font-weight="bold">)</text>
<text transform="translate(0 2145.80) scale(0.8439 1)" x="1873.5 1912.8 1944.5 1973.0 2010.0" y="0" font-size="52.00" font-weight="bold" stroke="#000" stroke-width="0.7" stroke-linejoin="round">B3LYP</text>
<text transform="translate(0 2222.75) scale(0.9361 1)" x="1684.8 1717.3 1755.8 1810.3" y="0" font-size="52.00" font-weight="bold" stroke="#000" stroke-width="0.7" stroke-linejoin="round">SVWN</text>
<path d="M1427.4,2125.9 H1566.9" stroke="#000" stroke-width="8" stroke-linecap="round" fill="none"/>
<path d="M1427.4,2202.8 H1566.9" stroke="#f00" stroke-width="8" stroke-linecap="round" fill="none"/>
</g>
</svg></body></html>
